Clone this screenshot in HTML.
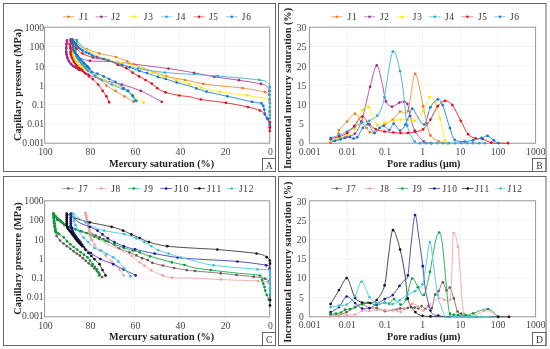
<!DOCTYPE html>
<html><head><meta charset="utf-8"><style>
html,body{margin:0;padding:0;background:#fff;width:550px;height:349px;overflow:hidden}
svg{display:block;font-family:"Liberation Serif", serif;will-change:transform}
</style></head><body>
<svg width="550" height="349" viewBox="0 0 550 349" font-family='"Liberation Serif", serif'><line x1="44.6" y1="46.53333333333333" x2="269.7" y2="46.53333333333333" stroke="#f2f2f2" stroke-width="1" />
<line x1="44.6" y1="65.86666666666666" x2="269.7" y2="65.86666666666666" stroke="#f2f2f2" stroke-width="1" />
<line x1="44.6" y1="85.19999999999999" x2="269.7" y2="85.19999999999999" stroke="#f2f2f2" stroke-width="1" />
<line x1="44.6" y1="104.53333333333333" x2="269.7" y2="104.53333333333333" stroke="#f2f2f2" stroke-width="1" />
<line x1="44.6" y1="123.86666666666665" x2="269.7" y2="123.86666666666665" stroke="#f2f2f2" stroke-width="1" />
<line x1="89.62" y1="27.2" x2="89.62" y2="143.2" stroke="#f2f2f2" stroke-width="1" />
<line x1="134.64" y1="27.2" x2="134.64" y2="143.2" stroke="#f2f2f2" stroke-width="1" />
<line x1="179.66" y1="27.2" x2="179.66" y2="143.2" stroke="#f2f2f2" stroke-width="1" />
<line x1="224.67999999999998" y1="27.2" x2="224.67999999999998" y2="143.2" stroke="#f2f2f2" stroke-width="1" />
<rect x="44.6" y="27.2" width="225.1" height="115.99999999999999" stroke="#959595" stroke-width="1" fill="none"/>
<rect x="3.5" y="3.5" width="272.0" height="168.0" stroke="#666" stroke-width="1" fill="none"/>
<rect x="262.5" y="158.5" width="13.0" height="13.0" stroke="#666" stroke-width="1" fill="none"/>
<text x="269.3" y="169.1" font-size="9.6" text-anchor="middle" font-weight="normal" fill="#3a3a3a" >A</text>
<text x="44.1" y="31.2" font-size="9.7" text-anchor="end" font-weight="normal" fill="#444" >1000</text>
<text x="44.1" y="50.35" font-size="9.7" text-anchor="end" font-weight="normal" fill="#444" >100</text>
<text x="44.1" y="69.5" font-size="9.7" text-anchor="end" font-weight="normal" fill="#444" >10</text>
<text x="44.1" y="88.64999999999999" font-size="9.7" text-anchor="end" font-weight="normal" fill="#444" >1</text>
<text x="44.1" y="107.8" font-size="9.7" text-anchor="end" font-weight="normal" fill="#444" >0.1</text>
<text x="44.1" y="126.95" font-size="9.7" text-anchor="end" font-weight="normal" fill="#444" >0.01</text>
<text x="44.1" y="146.09999999999997" font-size="9.7" text-anchor="end" font-weight="normal" fill="#444" >0.001</text>
<text x="45.4" y="154.7" font-size="9.7" text-anchor="middle" font-weight="normal" fill="#444" >100</text>
<text x="90.42" y="154.7" font-size="9.7" text-anchor="middle" font-weight="normal" fill="#444" >80</text>
<text x="135.44" y="154.7" font-size="9.7" text-anchor="middle" font-weight="normal" fill="#444" >60</text>
<text x="180.46" y="154.7" font-size="9.7" text-anchor="middle" font-weight="normal" fill="#444" >40</text>
<text x="225.48" y="154.7" font-size="9.7" text-anchor="middle" font-weight="normal" fill="#444" >20</text>
<text x="270.5" y="154.7" font-size="9.7" text-anchor="middle" font-weight="normal" fill="#444" >0</text>
<text x="161.6" y="166.6" font-size="10.2" text-anchor="middle" font-weight="bold" fill="#222" >Mercury saturation (%)</text>
<text x="0" y="0" font-size="10.3" text-anchor="middle" font-weight="bold" fill="#222" transform="translate(20.8,84.89999999999999) rotate(-90)">Capillary pressure (MPa)</text>
<line x1="62.8" y1="16.7" x2="74.3" y2="16.7" stroke="#F7B27A" stroke-width="1.1" />
<circle cx="68.55" cy="16.7" r="1.3" fill="#EE7A10"/>
<text x="79.2" y="19.7" font-size="9.4" text-anchor="start" font-weight="normal" fill="#333" letter-spacing="0.7">J1</text>
<line x1="95.6" y1="16.7" x2="107.1" y2="16.7" stroke="#D49CCD" stroke-width="1.1" />
<circle cx="101.35" cy="16.7" r="1.3" fill="#9C2A8E"/>
<text x="111.2" y="19.7" font-size="9.4" text-anchor="start" font-weight="normal" fill="#333" letter-spacing="0.7">J2</text>
<line x1="128.2" y1="16.7" x2="139.7" y2="16.7" stroke="#FFF27A" stroke-width="1.1" />
<circle cx="133.95" cy="16.7" r="1.3" fill="#FFE600"/>
<text x="143.8" y="19.7" font-size="9.4" text-anchor="start" font-weight="normal" fill="#333" letter-spacing="0.7">J3</text>
<line x1="160.8" y1="16.7" x2="172.3" y2="16.7" stroke="#98D6EE" stroke-width="1.1" />
<circle cx="166.55" cy="16.7" r="1.3" fill="#2BA5D0"/>
<text x="176.4" y="19.7" font-size="9.4" text-anchor="start" font-weight="normal" fill="#333" letter-spacing="0.7">J4</text>
<line x1="193.4" y1="16.7" x2="204.9" y2="16.7" stroke="#F59A9A" stroke-width="1.1" />
<circle cx="199.15" cy="16.7" r="1.3" fill="#E8101A"/>
<text x="209" y="19.7" font-size="9.4" text-anchor="start" font-weight="normal" fill="#333" letter-spacing="0.7">J5</text>
<line x1="226" y1="16.7" x2="237.5" y2="16.7" stroke="#98CCF2" stroke-width="1.1" />
<circle cx="231.75" cy="16.7" r="1.3" fill="#1E7FD8"/>
<text x="241.8" y="19.7" font-size="9.4" text-anchor="start" font-weight="normal" fill="#333" letter-spacing="0.7">J6</text>
<line x1="309.4" y1="46.53333333333333" x2="535.6" y2="46.53333333333333" stroke="#f2f2f2" stroke-width="1" />
<line x1="309.4" y1="65.86666666666666" x2="535.6" y2="65.86666666666666" stroke="#f2f2f2" stroke-width="1" />
<line x1="309.4" y1="85.19999999999999" x2="535.6" y2="85.19999999999999" stroke="#f2f2f2" stroke-width="1" />
<line x1="309.4" y1="104.53333333333333" x2="535.6" y2="104.53333333333333" stroke="#f2f2f2" stroke-width="1" />
<line x1="309.4" y1="123.86666666666665" x2="535.6" y2="123.86666666666665" stroke="#f2f2f2" stroke-width="1" />
<line x1="347.09999999999997" y1="27.2" x2="347.09999999999997" y2="143.2" stroke="#f2f2f2" stroke-width="1" />
<line x1="384.8" y1="27.2" x2="384.8" y2="143.2" stroke="#f2f2f2" stroke-width="1" />
<line x1="422.5" y1="27.2" x2="422.5" y2="143.2" stroke="#f2f2f2" stroke-width="1" />
<line x1="460.20000000000005" y1="27.2" x2="460.20000000000005" y2="143.2" stroke="#f2f2f2" stroke-width="1" />
<line x1="497.9" y1="27.2" x2="497.9" y2="143.2" stroke="#f2f2f2" stroke-width="1" />
<rect x="309.4" y="27.2" width="226.20000000000005" height="115.99999999999999" stroke="#959595" stroke-width="1" fill="none"/>
<rect x="278.5" y="3.5" width="267.5" height="168.0" stroke="#666" stroke-width="1" fill="none"/>
<rect x="532.5" y="158.5" width="13.5" height="13.0" stroke="#666" stroke-width="1" fill="none"/>
<text x="539.55" y="169.1" font-size="9.6" text-anchor="middle" font-weight="normal" fill="#3a3a3a" >B</text>
<text x="301.5" y="31.2" font-size="9.7" text-anchor="middle" font-weight="normal" fill="#444" >30</text>
<text x="301.5" y="50.35" font-size="9.7" text-anchor="middle" font-weight="normal" fill="#444" >25</text>
<text x="301.5" y="69.5" font-size="9.7" text-anchor="middle" font-weight="normal" fill="#444" >20</text>
<text x="301.5" y="88.64999999999999" font-size="9.7" text-anchor="middle" font-weight="normal" fill="#444" >15</text>
<text x="301.5" y="107.8" font-size="9.7" text-anchor="middle" font-weight="normal" fill="#444" >10</text>
<text x="301.5" y="126.95" font-size="9.7" text-anchor="middle" font-weight="normal" fill="#444" >5</text>
<text x="301.5" y="146.09999999999997" font-size="9.7" text-anchor="middle" font-weight="normal" fill="#444" >0</text>
<text x="309.59999999999997" y="154.7" font-size="9.7" text-anchor="middle" font-weight="normal" fill="#444" >0.001</text>
<text x="347.29999999999995" y="154.7" font-size="9.7" text-anchor="middle" font-weight="normal" fill="#444" >0.01</text>
<text x="385.0" y="154.7" font-size="9.7" text-anchor="middle" font-weight="normal" fill="#444" >0.1</text>
<text x="422.7" y="154.7" font-size="9.7" text-anchor="middle" font-weight="normal" fill="#444" >1</text>
<text x="460.40000000000003" y="154.7" font-size="9.7" text-anchor="middle" font-weight="normal" fill="#444" >10</text>
<text x="498.09999999999997" y="154.7" font-size="9.7" text-anchor="middle" font-weight="normal" fill="#444" >100</text>
<text x="535.8000000000001" y="154.7" font-size="9.7" text-anchor="middle" font-weight="normal" fill="#444" >1000</text>
<text x="423.8" y="166.6" font-size="10.1" text-anchor="middle" font-weight="bold" fill="#222" >Pore radius (μm)</text>
<text x="0" y="0" font-size="10.3" text-anchor="middle" font-weight="bold" fill="#222" transform="translate(290.6,88.5) rotate(-90)">Incremental mercury saturation (%)</text>
<line x1="331" y1="16.7" x2="342.5" y2="16.7" stroke="#F7B27A" stroke-width="1.1" />
<circle cx="336.75" cy="16.7" r="1.3" fill="#EE7A10"/>
<text x="347.6" y="19.7" font-size="9.4" text-anchor="start" font-weight="normal" fill="#333" letter-spacing="0.7">J1</text>
<line x1="363.8" y1="16.7" x2="375.3" y2="16.7" stroke="#D49CCD" stroke-width="1.1" />
<circle cx="369.55" cy="16.7" r="1.3" fill="#9C2A8E"/>
<text x="380" y="19.7" font-size="9.4" text-anchor="start" font-weight="normal" fill="#333" letter-spacing="0.7">J2</text>
<line x1="396.4" y1="16.7" x2="407.9" y2="16.7" stroke="#FFF27A" stroke-width="1.1" />
<circle cx="402.15" cy="16.7" r="1.3" fill="#FFE600"/>
<text x="412.8" y="19.7" font-size="9.4" text-anchor="start" font-weight="normal" fill="#333" letter-spacing="0.7">J3</text>
<line x1="429" y1="16.7" x2="440.5" y2="16.7" stroke="#98D6EE" stroke-width="1.1" />
<circle cx="434.75" cy="16.7" r="1.3" fill="#2BA5D0"/>
<text x="445" y="19.7" font-size="9.4" text-anchor="start" font-weight="normal" fill="#333" letter-spacing="0.7">J4</text>
<line x1="461.6" y1="16.7" x2="473.1" y2="16.7" stroke="#F59A9A" stroke-width="1.1" />
<circle cx="467.35" cy="16.7" r="1.3" fill="#E8101A"/>
<text x="478" y="19.7" font-size="9.4" text-anchor="start" font-weight="normal" fill="#333" letter-spacing="0.7">J5</text>
<line x1="494.2" y1="16.7" x2="505.7" y2="16.7" stroke="#98CCF2" stroke-width="1.1" />
<circle cx="499.95" cy="16.7" r="1.3" fill="#1E7FD8"/>
<text x="510" y="19.7" font-size="9.4" text-anchor="start" font-weight="normal" fill="#333" letter-spacing="0.7">J6</text>
<line x1="44.6" y1="220.13333333333335" x2="269.7" y2="220.13333333333335" stroke="#f2f2f2" stroke-width="1" />
<line x1="44.6" y1="239.46666666666667" x2="269.7" y2="239.46666666666667" stroke="#f2f2f2" stroke-width="1" />
<line x1="44.6" y1="258.8" x2="269.7" y2="258.8" stroke="#f2f2f2" stroke-width="1" />
<line x1="44.6" y1="278.1333333333333" x2="269.7" y2="278.1333333333333" stroke="#f2f2f2" stroke-width="1" />
<line x1="44.6" y1="297.4666666666667" x2="269.7" y2="297.4666666666667" stroke="#f2f2f2" stroke-width="1" />
<line x1="89.62" y1="200.8" x2="89.62" y2="316.8" stroke="#f2f2f2" stroke-width="1" />
<line x1="134.64" y1="200.8" x2="134.64" y2="316.8" stroke="#f2f2f2" stroke-width="1" />
<line x1="179.66" y1="200.8" x2="179.66" y2="316.8" stroke="#f2f2f2" stroke-width="1" />
<line x1="224.67999999999998" y1="200.8" x2="224.67999999999998" y2="316.8" stroke="#f2f2f2" stroke-width="1" />
<rect x="44.6" y="200.8" width="225.1" height="116.0" stroke="#959595" stroke-width="1" fill="none"/>
<rect x="3.5" y="176.5" width="272.0" height="169.0" stroke="#666" stroke-width="1" fill="none"/>
<rect x="262.5" y="332.5" width="13.0" height="13.0" stroke="#666" stroke-width="1" fill="none"/>
<text x="269.3" y="343.1" font-size="9.6" text-anchor="middle" font-weight="normal" fill="#3a3a3a" >C</text>
<text x="43.7" y="204.2" font-size="9.7" text-anchor="end" font-weight="normal" fill="#444" >1000</text>
<text x="43.7" y="223.35" font-size="9.7" text-anchor="end" font-weight="normal" fill="#444" >100</text>
<text x="43.7" y="242.5" font-size="9.7" text-anchor="end" font-weight="normal" fill="#444" >10</text>
<text x="43.7" y="261.65" font-size="9.7" text-anchor="end" font-weight="normal" fill="#444" >1</text>
<text x="43.7" y="280.8" font-size="9.7" text-anchor="end" font-weight="normal" fill="#444" >0.1</text>
<text x="43.7" y="299.95" font-size="9.7" text-anchor="end" font-weight="normal" fill="#444" >0.01</text>
<text x="43.7" y="319.09999999999997" font-size="9.7" text-anchor="end" font-weight="normal" fill="#444" >0.001</text>
<text x="45.4" y="328.90000000000003" font-size="9.7" text-anchor="middle" font-weight="normal" fill="#444" >100</text>
<text x="90.42" y="328.90000000000003" font-size="9.7" text-anchor="middle" font-weight="normal" fill="#444" >80</text>
<text x="135.44" y="328.90000000000003" font-size="9.7" text-anchor="middle" font-weight="normal" fill="#444" >60</text>
<text x="180.46" y="328.90000000000003" font-size="9.7" text-anchor="middle" font-weight="normal" fill="#444" >40</text>
<text x="225.48" y="328.90000000000003" font-size="9.7" text-anchor="middle" font-weight="normal" fill="#444" >20</text>
<text x="270.5" y="328.90000000000003" font-size="9.7" text-anchor="middle" font-weight="normal" fill="#444" >0</text>
<text x="161.6" y="340.2" font-size="10.2" text-anchor="middle" font-weight="bold" fill="#222" >Mercury saturation (%)</text>
<text x="0" y="0" font-size="10.3" text-anchor="middle" font-weight="bold" fill="#222" transform="translate(20.8,258.5) rotate(-90)">Capillary pressure (MPa)</text>
<line x1="62.6" y1="188.5" x2="74.1" y2="188.5" stroke="#B0A5A0" stroke-width="1.1" />
<circle cx="68.35" cy="188.5" r="1.3" fill="#6E5E58"/>
<text x="78.6" y="191.5" font-size="9.4" text-anchor="start" font-weight="normal" fill="#333" letter-spacing="0.7">J7</text>
<line x1="95.6" y1="188.5" x2="107.1" y2="188.5" stroke="#F8C8C8" stroke-width="1.1" />
<circle cx="101.35" cy="188.5" r="1.3" fill="#F19A9A"/>
<text x="111.2" y="191.5" font-size="9.4" text-anchor="start" font-weight="normal" fill="#333" letter-spacing="0.7">J8</text>
<line x1="128" y1="188.5" x2="139.5" y2="188.5" stroke="#70C890" stroke-width="1.1" />
<circle cx="133.75" cy="188.5" r="1.3" fill="#10A040"/>
<text x="143.8" y="191.5" font-size="9.4" text-anchor="start" font-weight="normal" fill="#333" letter-spacing="0.7">J9</text>
<line x1="160.4" y1="188.5" x2="171.9" y2="188.5" stroke="#7070C8" stroke-width="1.1" />
<circle cx="166.15" cy="188.5" r="1.3" fill="#1A1A9A"/>
<text x="174" y="191.5" font-size="9.4" text-anchor="start" font-weight="normal" fill="#333" letter-spacing="0.7">J10</text>
<line x1="193.6" y1="188.5" x2="205.1" y2="188.5" stroke="#666" stroke-width="1.1" />
<circle cx="199.35" cy="188.5" r="1.3" fill="#111"/>
<text x="207" y="191.5" font-size="9.4" text-anchor="start" font-weight="normal" fill="#333" letter-spacing="0.7">J11</text>
<line x1="226" y1="188.5" x2="237.5" y2="188.5" stroke="#A0E2F0" stroke-width="1.1" />
<circle cx="231.75" cy="188.5" r="1.3" fill="#3CC0DA"/>
<text x="239" y="191.5" font-size="9.4" text-anchor="start" font-weight="normal" fill="#333" letter-spacing="0.7">J12</text>
<line x1="309.4" y1="220.13333333333335" x2="535.6" y2="220.13333333333335" stroke="#f2f2f2" stroke-width="1" />
<line x1="309.4" y1="239.46666666666667" x2="535.6" y2="239.46666666666667" stroke="#f2f2f2" stroke-width="1" />
<line x1="309.4" y1="258.8" x2="535.6" y2="258.8" stroke="#f2f2f2" stroke-width="1" />
<line x1="309.4" y1="278.1333333333333" x2="535.6" y2="278.1333333333333" stroke="#f2f2f2" stroke-width="1" />
<line x1="309.4" y1="297.4666666666667" x2="535.6" y2="297.4666666666667" stroke="#f2f2f2" stroke-width="1" />
<line x1="347.09999999999997" y1="200.8" x2="347.09999999999997" y2="316.8" stroke="#f2f2f2" stroke-width="1" />
<line x1="384.8" y1="200.8" x2="384.8" y2="316.8" stroke="#f2f2f2" stroke-width="1" />
<line x1="422.5" y1="200.8" x2="422.5" y2="316.8" stroke="#f2f2f2" stroke-width="1" />
<line x1="460.20000000000005" y1="200.8" x2="460.20000000000005" y2="316.8" stroke="#f2f2f2" stroke-width="1" />
<line x1="497.9" y1="200.8" x2="497.9" y2="316.8" stroke="#f2f2f2" stroke-width="1" />
<rect x="309.4" y="200.8" width="226.20000000000005" height="116.0" stroke="#959595" stroke-width="1" fill="none"/>
<rect x="278.5" y="176.5" width="267.5" height="169.0" stroke="#666" stroke-width="1" fill="none"/>
<rect x="532.5" y="332.5" width="13.5" height="13.0" stroke="#666" stroke-width="1" fill="none"/>
<text x="539.55" y="343.1" font-size="9.6" text-anchor="middle" font-weight="normal" fill="#3a3a3a" >D</text>
<text x="301.5" y="204.8" font-size="9.7" text-anchor="middle" font-weight="normal" fill="#444" >30</text>
<text x="301.5" y="223.95000000000002" font-size="9.7" text-anchor="middle" font-weight="normal" fill="#444" >25</text>
<text x="301.5" y="243.10000000000002" font-size="9.7" text-anchor="middle" font-weight="normal" fill="#444" >20</text>
<text x="301.5" y="262.25" font-size="9.7" text-anchor="middle" font-weight="normal" fill="#444" >15</text>
<text x="301.5" y="281.40000000000003" font-size="9.7" text-anchor="middle" font-weight="normal" fill="#444" >10</text>
<text x="301.5" y="300.55" font-size="9.7" text-anchor="middle" font-weight="normal" fill="#444" >5</text>
<text x="301.5" y="319.7" font-size="9.7" text-anchor="middle" font-weight="normal" fill="#444" >0</text>
<text x="309.59999999999997" y="328.3" font-size="9.7" text-anchor="middle" font-weight="normal" fill="#444" >0.001</text>
<text x="347.29999999999995" y="328.3" font-size="9.7" text-anchor="middle" font-weight="normal" fill="#444" >0.01</text>
<text x="385.0" y="328.3" font-size="9.7" text-anchor="middle" font-weight="normal" fill="#444" >0.1</text>
<text x="422.7" y="328.3" font-size="9.7" text-anchor="middle" font-weight="normal" fill="#444" >1</text>
<text x="460.40000000000003" y="328.3" font-size="9.7" text-anchor="middle" font-weight="normal" fill="#444" >10</text>
<text x="498.09999999999997" y="328.3" font-size="9.7" text-anchor="middle" font-weight="normal" fill="#444" >100</text>
<text x="535.8000000000001" y="328.3" font-size="9.7" text-anchor="middle" font-weight="normal" fill="#444" >1000</text>
<text x="423.8" y="340.2" font-size="10.1" text-anchor="middle" font-weight="bold" fill="#222" >Pore radius (μm)</text>
<text x="0" y="0" font-size="10.3" text-anchor="middle" font-weight="bold" fill="#222" transform="translate(290.6,262.2) rotate(-90)">Incremental mercury saturation (%)</text>
<line x1="331" y1="188.5" x2="342.5" y2="188.5" stroke="#B0A5A0" stroke-width="1.1" />
<circle cx="336.75" cy="188.5" r="1.3" fill="#6E5E58"/>
<text x="346.6" y="191.5" font-size="9.4" text-anchor="start" font-weight="normal" fill="#333" letter-spacing="0.7">J7</text>
<line x1="364" y1="188.5" x2="375.5" y2="188.5" stroke="#F8C8C8" stroke-width="1.1" />
<circle cx="369.75" cy="188.5" r="1.3" fill="#F19A9A"/>
<text x="380" y="191.5" font-size="9.4" text-anchor="start" font-weight="normal" fill="#333" letter-spacing="0.7">J8</text>
<line x1="396.6" y1="188.5" x2="408.1" y2="188.5" stroke="#70C890" stroke-width="1.1" />
<circle cx="402.35" cy="188.5" r="1.3" fill="#10A040"/>
<text x="412.6" y="191.5" font-size="9.4" text-anchor="start" font-weight="normal" fill="#333" letter-spacing="0.7">J9</text>
<line x1="428.6" y1="188.5" x2="440.1" y2="188.5" stroke="#7070C8" stroke-width="1.1" />
<circle cx="434.35" cy="188.5" r="1.3" fill="#1A1A9A"/>
<text x="442.4" y="191.5" font-size="9.4" text-anchor="start" font-weight="normal" fill="#333" letter-spacing="0.7">J10</text>
<line x1="462" y1="188.5" x2="473.5" y2="188.5" stroke="#666" stroke-width="1.1" />
<circle cx="467.75" cy="188.5" r="1.3" fill="#111"/>
<text x="475" y="191.5" font-size="9.4" text-anchor="start" font-weight="normal" fill="#333" letter-spacing="0.7">J11</text>
<line x1="495" y1="188.5" x2="506.5" y2="188.5" stroke="#A0E2F0" stroke-width="1.1" />
<circle cx="500.75" cy="188.5" r="1.3" fill="#3CC0DA"/>
<text x="507.6" y="191.5" font-size="9.4" text-anchor="start" font-weight="normal" fill="#333" letter-spacing="0.7">J12</text>
<path d="M269.80,128.00 C269.80,125.33 269.83,116.67 269.80,112.00 C269.77,107.33 269.75,102.93 269.60,100.00 C269.45,97.07 269.68,95.73 268.90,94.40 C268.12,93.07 269.25,93.05 264.90,92.00 C260.55,90.95 249.95,89.10 242.80,88.10 C235.65,87.10 228.57,86.70 222.00,86.00 C215.43,85.30 209.57,84.90 203.40,83.90 C197.23,82.90 191.18,81.28 185.00,80.00 C178.82,78.72 172.13,77.78 166.30,76.20 C160.47,74.62 155.40,72.43 150.00,70.50 C144.60,68.57 137.70,66.12 133.90,64.60 C130.10,63.08 130.18,62.65 127.20,61.40 C124.22,60.15 119.53,58.20 116.00,57.10 C112.47,56.00 108.78,55.42 106.00,54.80 C103.22,54.18 102.53,54.33 99.30,53.40 C96.07,52.47 89.82,50.43 86.60,49.20 C83.38,47.97 81.68,47.20 80.00,46.00 C78.32,44.80 77.33,43.00 76.50,42.00 C75.67,41.00 75.28,39.33 75.00,40.00 C74.72,40.67 74.72,44.00 74.80,46.00 C74.88,48.00 75.05,50.00 75.50,52.00 C75.95,54.00 76.58,56.00 77.50,58.00 C78.42,60.00 79.58,62.08 81.00,64.00 C82.42,65.92 84.17,67.83 86.00,69.50 C87.83,71.17 89.67,72.40 92.00,74.00 C94.33,75.60 97.60,77.18 100.00,79.10 C102.40,81.02 103.82,83.53 106.40,85.50 C108.98,87.47 112.48,89.08 115.50,90.90 C118.52,92.72 121.48,94.58 124.50,96.40 C127.52,98.22 132.08,100.90 133.60,101.80" fill="none" stroke="#F39A4A" stroke-width="1.0"/>
<circle cx="269.8" cy="128" r="1.35" fill="#EE7B22"/>
<circle cx="269.8" cy="112" r="1.35" fill="#EE7B22"/>
<circle cx="269.6" cy="100" r="1.35" fill="#EE7B22"/>
<circle cx="268.9" cy="94.4" r="1.35" fill="#EE7B22"/>
<circle cx="264.9" cy="92" r="1.35" fill="#EE7B22"/>
<circle cx="242.8" cy="88.1" r="1.35" fill="#EE7B22"/>
<circle cx="203.4" cy="83.9" r="1.35" fill="#EE7B22"/>
<circle cx="185" cy="80" r="1.35" fill="#EE7B22"/>
<circle cx="166.3" cy="76.2" r="1.35" fill="#EE7B22"/>
<circle cx="133.9" cy="64.6" r="1.35" fill="#EE7B22"/>
<circle cx="127.2" cy="61.4" r="1.35" fill="#EE7B22"/>
<circle cx="116" cy="57.1" r="1.35" fill="#EE7B22"/>
<circle cx="99.3" cy="53.4" r="1.35" fill="#EE7B22"/>
<circle cx="86.6" cy="49.2" r="1.35" fill="#EE7B22"/>
<circle cx="75" cy="40" r="1.35" fill="#EE7B22"/>
<circle cx="74.8" cy="46" r="1.35" fill="#EE7B22"/>
<circle cx="77.5" cy="58" r="1.35" fill="#EE7B22"/>
<circle cx="86" cy="69.5" r="1.35" fill="#EE7B22"/>
<circle cx="100" cy="79.1" r="1.35" fill="#EE7B22"/>
<circle cx="106.4" cy="85.5" r="1.35" fill="#EE7B22"/>
<circle cx="115.5" cy="90.9" r="1.35" fill="#EE7B22"/>
<circle cx="124.5" cy="96.4" r="1.35" fill="#EE7B22"/>
<circle cx="133.6" cy="101.8" r="1.35" fill="#EE7B22"/>
<path d="M269.80,126.00 C269.80,123.67 269.80,116.33 269.80,112.00 C269.80,107.67 269.88,103.50 269.80,100.00 C269.72,96.50 269.72,93.25 269.30,91.00 C268.88,88.75 268.68,87.68 267.30,86.50 C265.92,85.32 265.73,84.95 261.00,83.90 C256.27,82.85 246.67,81.38 238.90,80.20 C231.13,79.02 221.88,78.03 214.40,76.80 C206.92,75.57 201.67,74.17 194.00,72.80 C186.33,71.43 179.07,70.12 168.40,68.60 C157.73,67.08 139.95,64.88 130.00,63.70 C120.05,62.52 115.37,61.97 108.70,61.50 C102.03,61.03 94.78,61.48 90.00,60.90 C85.22,60.32 82.42,59.07 80.00,58.00 C77.58,56.93 77.00,56.00 75.50,54.50 C74.00,53.00 72.17,50.75 71.00,49.00 C69.83,47.25 69.17,45.42 68.50,44.00 C67.83,42.58 67.33,40.50 67.00,40.50 C66.67,40.50 66.62,42.75 66.50,44.00 C66.38,45.25 66.33,46.67 66.30,48.00 C66.27,49.33 66.27,50.95 66.30,52.00 C66.33,53.05 66.33,53.38 66.50,54.30 C66.67,55.22 66.92,56.38 67.30,57.50 C67.68,58.62 68.18,59.92 68.80,61.00 C69.42,62.08 70.22,63.12 71.00,64.00 C71.78,64.88 72.62,65.63 73.50,66.30 C74.38,66.97 75.37,67.38 76.30,68.00 C77.23,68.62 77.12,68.92 79.10,70.00 C81.08,71.08 84.27,72.83 88.20,74.50 C92.13,76.17 97.10,78.33 102.70,80.00 C108.30,81.67 115.43,82.68 121.80,84.50 C128.17,86.32 134.23,88.02 140.90,90.90 C147.57,93.78 158.32,99.98 161.80,101.80" fill="none" stroke="#B855A0" stroke-width="1.0"/>
<path d="M66.90,40.00 C66.83,40.67 66.60,42.67 66.50,44.00 C66.40,45.33 66.33,46.67 66.30,48.00 C66.27,49.33 66.27,50.95 66.30,52.00 C66.33,53.05 66.33,53.38 66.50,54.30 C66.67,55.22 66.92,56.38 67.30,57.50 C67.68,58.62 68.18,59.92 68.80,61.00 C69.42,62.08 70.22,63.12 71.00,64.00 C71.78,64.88 72.62,65.63 73.50,66.30 C74.38,66.97 75.38,67.42 76.30,68.00 C77.22,68.58 78.55,69.50 79.00,69.80" fill="none" stroke="#9B2D88" stroke-width="1.9" stroke-linecap="round" stroke-linejoin="round"/>
<circle cx="269.8" cy="126" r="1.35" fill="#9B2D88"/>
<circle cx="269.8" cy="112" r="1.35" fill="#9B2D88"/>
<circle cx="269.8" cy="100" r="1.35" fill="#9B2D88"/>
<circle cx="269.3" cy="91" r="1.35" fill="#9B2D88"/>
<circle cx="261" cy="83.9" r="1.35" fill="#9B2D88"/>
<circle cx="238.9" cy="80.2" r="1.35" fill="#9B2D88"/>
<circle cx="214.4" cy="76.8" r="1.35" fill="#9B2D88"/>
<circle cx="194" cy="72.8" r="1.35" fill="#9B2D88"/>
<circle cx="168.4" cy="68.6" r="1.35" fill="#9B2D88"/>
<circle cx="90" cy="60.9" r="1.35" fill="#9B2D88"/>
<circle cx="67" cy="40.5" r="1.35" fill="#9B2D88"/>
<circle cx="66.5" cy="44" r="1.35" fill="#9B2D88"/>
<circle cx="66.3" cy="48" r="1.35" fill="#9B2D88"/>
<circle cx="66.3" cy="52" r="1.35" fill="#9B2D88"/>
<circle cx="66.5" cy="54.3" r="1.35" fill="#9B2D88"/>
<circle cx="67.3" cy="57.5" r="1.35" fill="#9B2D88"/>
<circle cx="68.8" cy="61" r="1.35" fill="#9B2D88"/>
<circle cx="71" cy="64" r="1.35" fill="#9B2D88"/>
<circle cx="73.5" cy="66.3" r="1.35" fill="#9B2D88"/>
<circle cx="76.3" cy="68" r="1.35" fill="#9B2D88"/>
<circle cx="79.1" cy="70" r="1.35" fill="#9B2D88"/>
<circle cx="88.2" cy="74.5" r="1.35" fill="#9B2D88"/>
<circle cx="121.8" cy="84.5" r="1.35" fill="#9B2D88"/>
<circle cx="140.9" cy="90.9" r="1.35" fill="#9B2D88"/>
<circle cx="161.8" cy="101.8" r="1.35" fill="#9B2D88"/>
<path d="M269.80,124.00 C269.80,121.67 269.83,113.67 269.80,110.00 C269.77,106.33 269.82,103.80 269.60,102.00 C269.38,100.20 272.25,100.30 268.50,99.20 C264.75,98.10 255.18,96.63 247.10,95.40 C239.02,94.17 227.62,93.10 220.00,91.80 C212.38,90.50 206.55,88.92 201.40,87.60 C196.25,86.28 193.33,85.17 189.10,83.90 C184.87,82.63 180.25,81.28 176.00,80.00 C171.75,78.72 167.52,77.42 163.60,76.20 C159.68,74.98 156.18,74.02 152.50,72.70 C148.82,71.38 145.07,69.65 141.50,68.30 C137.93,66.95 135.02,65.63 131.10,64.60 C127.18,63.57 122.52,63.20 118.00,62.10 C113.48,61.00 108.33,59.52 104.00,58.00 C99.67,56.48 95.50,54.83 92.00,53.00 C88.50,51.17 85.50,48.83 83.00,47.00 C80.50,45.17 78.50,43.17 77.00,42.00 C75.50,40.83 74.58,39.67 74.00,40.00 C73.42,40.33 73.63,42.67 73.50,44.00 C73.37,45.33 73.25,46.67 73.20,48.00 C73.15,49.33 73.20,50.77 73.20,52.00 C73.20,53.23 72.98,54.23 73.20,55.40 C73.42,56.57 73.87,57.82 74.50,59.00 C75.13,60.18 76.08,61.42 77.00,62.50 C77.92,63.58 79.00,64.58 80.00,65.50 C81.00,66.42 81.93,67.25 83.00,68.00 C84.07,68.75 84.32,68.75 86.40,70.00 C88.48,71.25 92.48,73.83 95.50,75.50 C98.52,77.17 101.17,78.33 104.50,80.00 C107.83,81.67 112.17,83.98 115.50,85.50 C118.83,87.02 121.78,87.60 124.50,89.10 C127.22,90.60 128.62,92.23 131.80,94.50 C134.98,96.77 141.63,101.33 143.60,102.70" fill="none" stroke="#FFEE33" stroke-width="1.0"/>
<path d="M74.00,40.00 C73.92,40.67 73.63,42.67 73.50,44.00 C73.37,45.33 73.25,46.67 73.20,48.00 C73.15,49.33 73.20,50.77 73.20,52.00 C73.20,53.23 72.98,54.23 73.20,55.40 C73.42,56.57 73.87,57.82 74.50,59.00 C75.13,60.18 76.08,61.42 77.00,62.50 C77.92,63.58 79.00,64.58 80.00,65.50 C81.00,66.42 82.00,67.30 83.00,68.00 C84.00,68.70 85.50,69.42 86.00,69.70" fill="none" stroke="#FFE000" stroke-width="1.9" stroke-linecap="round" stroke-linejoin="round"/>
<circle cx="269.8" cy="124" r="1.35" fill="#FFE000"/>
<circle cx="269.8" cy="110" r="1.35" fill="#FFE000"/>
<circle cx="269.6" cy="102" r="1.35" fill="#FFE000"/>
<circle cx="247.1" cy="95.4" r="1.35" fill="#FFE000"/>
<circle cx="220" cy="91.8" r="1.35" fill="#FFE000"/>
<circle cx="201.4" cy="87.6" r="1.35" fill="#FFE000"/>
<circle cx="189.1" cy="83.9" r="1.35" fill="#FFE000"/>
<circle cx="176" cy="80" r="1.35" fill="#FFE000"/>
<circle cx="163.6" cy="76.2" r="1.35" fill="#FFE000"/>
<circle cx="152.5" cy="72.7" r="1.35" fill="#FFE000"/>
<circle cx="141.5" cy="68.3" r="1.35" fill="#FFE000"/>
<circle cx="131.1" cy="64.6" r="1.35" fill="#FFE000"/>
<circle cx="118" cy="62.1" r="1.35" fill="#FFE000"/>
<circle cx="74" cy="40" r="1.35" fill="#FFE000"/>
<circle cx="73.5" cy="44" r="1.35" fill="#FFE000"/>
<circle cx="73.2" cy="48" r="1.35" fill="#FFE000"/>
<circle cx="73.2" cy="52" r="1.35" fill="#FFE000"/>
<circle cx="73.2" cy="55.4" r="1.35" fill="#FFE000"/>
<circle cx="74.5" cy="59" r="1.35" fill="#FFE000"/>
<circle cx="77" cy="62.5" r="1.35" fill="#FFE000"/>
<circle cx="80" cy="65.5" r="1.35" fill="#FFE000"/>
<circle cx="83" cy="68" r="1.35" fill="#FFE000"/>
<circle cx="86.4" cy="70" r="1.35" fill="#FFE000"/>
<circle cx="95.5" cy="75.5" r="1.35" fill="#FFE000"/>
<circle cx="104.5" cy="80" r="1.35" fill="#FFE000"/>
<circle cx="115.5" cy="85.5" r="1.35" fill="#FFE000"/>
<circle cx="124.5" cy="89.1" r="1.35" fill="#FFE000"/>
<circle cx="131.8" cy="94.5" r="1.35" fill="#FFE000"/>
<circle cx="143.6" cy="102.7" r="1.35" fill="#FFE000"/>
<path d="M269.80,118.00 C269.80,117.50 269.80,116.17 269.80,115.00 C269.80,113.83 269.80,112.33 269.80,111.00 C269.80,109.67 269.80,108.33 269.80,107.00 C269.80,105.67 269.80,104.33 269.80,103.00 C269.80,101.67 269.80,100.33 269.80,99.00 C269.80,97.67 269.80,96.33 269.80,95.00 C269.80,93.67 269.80,92.33 269.80,91.00 C269.80,89.67 270.22,88.40 269.80,87.00 C269.38,85.60 269.03,83.77 267.30,82.60 C265.57,81.43 267.68,81.10 259.40,80.00 C251.12,78.90 228.50,76.92 217.60,76.00 C206.70,75.08 202.77,75.08 194.00,74.50 C185.23,73.92 174.33,73.48 165.00,72.50 C155.67,71.52 145.50,70.02 138.00,68.60 C130.50,67.18 126.33,65.77 120.00,64.00 C113.67,62.23 105.33,60.00 100.00,58.00 C94.67,56.00 91.00,54.00 88.00,52.00 C85.00,50.00 83.58,47.67 82.00,46.00 C80.42,44.33 79.33,43.00 78.50,42.00 C77.67,41.00 77.37,39.67 77.00,40.00 C76.63,40.33 76.50,42.67 76.30,44.00 C76.10,45.33 75.93,46.83 75.80,48.00 C75.67,49.17 75.55,50.17 75.50,51.00 C75.45,51.83 75.33,52.08 75.50,53.00 C75.67,53.92 75.92,55.25 76.50,56.50 C77.08,57.75 78.08,59.25 79.00,60.50 C79.92,61.75 81.00,62.92 82.00,64.00 C83.00,65.08 83.97,65.85 85.00,67.00 C86.03,68.15 86.53,69.48 88.20,70.90 C89.87,72.32 92.73,73.98 95.00,75.50 C97.27,77.02 99.00,78.50 101.80,80.00 C104.60,81.50 108.32,82.98 111.80,84.50 C115.28,86.02 120.12,88.03 122.70,89.10 C125.28,90.17 125.63,89.68 127.30,90.90 C128.97,92.12 131.50,94.73 132.70,96.40 C133.90,98.07 134.20,100.15 134.50,100.90" fill="none" stroke="#4DB8DF" stroke-width="1.0"/>
<path d="M77.00,40.00 C76.88,40.67 76.50,42.67 76.30,44.00 C76.10,45.33 75.93,46.83 75.80,48.00 C75.67,49.17 75.55,50.17 75.50,51.00 C75.45,51.83 75.33,52.08 75.50,53.00 C75.67,53.92 75.92,55.25 76.50,56.50 C77.08,57.75 78.08,59.25 79.00,60.50 C79.92,61.75 81.00,62.92 82.00,64.00 C83.00,65.08 83.97,65.85 85.00,67.00 C86.03,68.15 87.67,70.25 88.20,70.90" fill="none" stroke="#2EA6D8" stroke-width="1.9" stroke-linecap="round" stroke-linejoin="round"/>
<circle cx="269.8" cy="118" r="1.35" fill="#2EA6D8"/>
<circle cx="269.8" cy="115" r="1.35" fill="#2EA6D8"/>
<circle cx="269.8" cy="111" r="1.35" fill="#2EA6D8"/>
<circle cx="269.8" cy="107" r="1.35" fill="#2EA6D8"/>
<circle cx="269.8" cy="103" r="1.35" fill="#2EA6D8"/>
<circle cx="269.8" cy="99" r="1.35" fill="#2EA6D8"/>
<circle cx="269.8" cy="95" r="1.35" fill="#2EA6D8"/>
<circle cx="269.8" cy="91" r="1.35" fill="#2EA6D8"/>
<circle cx="269.8" cy="87" r="1.35" fill="#2EA6D8"/>
<circle cx="259.4" cy="80" r="1.35" fill="#2EA6D8"/>
<circle cx="217.6" cy="76" r="1.35" fill="#2EA6D8"/>
<circle cx="165" cy="72.5" r="1.35" fill="#2EA6D8"/>
<circle cx="138" cy="68.6" r="1.35" fill="#2EA6D8"/>
<circle cx="77" cy="40" r="1.35" fill="#2EA6D8"/>
<circle cx="76.3" cy="44" r="1.35" fill="#2EA6D8"/>
<circle cx="75.8" cy="48" r="1.35" fill="#2EA6D8"/>
<circle cx="75.5" cy="51" r="1.35" fill="#2EA6D8"/>
<circle cx="75.5" cy="53" r="1.35" fill="#2EA6D8"/>
<circle cx="76.5" cy="56.5" r="1.35" fill="#2EA6D8"/>
<circle cx="79" cy="60.5" r="1.35" fill="#2EA6D8"/>
<circle cx="82" cy="64" r="1.35" fill="#2EA6D8"/>
<circle cx="85" cy="67" r="1.35" fill="#2EA6D8"/>
<circle cx="88.2" cy="70.9" r="1.35" fill="#2EA6D8"/>
<circle cx="95" cy="75.5" r="1.35" fill="#2EA6D8"/>
<circle cx="101.8" cy="80" r="1.35" fill="#2EA6D8"/>
<circle cx="111.8" cy="84.5" r="1.35" fill="#2EA6D8"/>
<circle cx="122.7" cy="89.1" r="1.35" fill="#2EA6D8"/>
<circle cx="127.3" cy="90.9" r="1.35" fill="#2EA6D8"/>
<circle cx="132.7" cy="96.4" r="1.35" fill="#2EA6D8"/>
<circle cx="134.5" cy="100.9" r="1.35" fill="#2EA6D8"/>
<path d="M269.80,131.00 C269.80,130.42 269.80,128.95 269.80,127.50 C269.80,126.05 270.15,123.68 269.80,122.30 C269.45,120.92 268.52,120.52 267.70,119.20 C266.88,117.88 266.20,115.85 264.90,114.40 C263.60,112.95 262.72,111.73 259.90,110.50 C257.08,109.27 253.65,108.28 248.00,107.00 C242.35,105.72 233.83,104.05 226.00,102.80 C218.17,101.55 207.00,100.50 201.00,99.50 C195.00,98.50 193.60,97.47 190.00,96.80 C186.40,96.13 183.48,96.23 179.40,95.50 C175.32,94.77 169.18,93.62 165.50,92.40 C161.82,91.18 159.58,89.67 157.30,88.20 C155.02,86.73 153.77,84.97 151.80,83.60 C149.83,82.23 147.62,81.20 145.50,80.00 C143.38,78.80 141.23,77.62 139.10,76.40 C136.97,75.18 134.82,74.07 132.70,72.70 C130.58,71.33 128.85,69.50 126.40,68.20 C123.95,66.90 120.97,66.18 118.00,64.90 C115.03,63.62 112.77,61.73 108.60,60.50 C104.43,59.27 97.35,58.67 93.00,57.50 C88.65,56.33 85.25,55.00 82.50,53.50 C79.75,52.00 78.17,50.17 76.50,48.50 C74.83,46.83 73.48,44.97 72.50,43.50 C71.52,42.03 70.93,39.62 70.60,39.70 C70.27,39.78 70.52,42.62 70.50,44.00 C70.48,45.38 70.48,46.67 70.50,48.00 C70.52,49.33 70.55,50.95 70.60,52.00 C70.65,53.05 70.57,53.30 70.80,54.30 C71.03,55.30 71.47,56.72 72.00,58.00 C72.53,59.28 73.25,60.75 74.00,62.00 C74.75,63.25 75.67,64.50 76.50,65.50 C77.33,66.50 78.17,67.30 79.00,68.00 C79.83,68.70 80.42,68.77 81.50,69.70 C82.58,70.63 84.25,72.50 85.50,73.60 C86.75,74.70 87.80,75.38 89.00,76.30 C90.20,77.22 91.17,77.73 92.70,79.10 C94.23,80.47 96.53,82.53 98.20,84.50 C99.87,86.47 101.33,88.92 102.70,90.90 C104.07,92.88 105.33,94.52 106.40,96.40 C107.47,98.28 108.65,101.23 109.10,102.20" fill="none" stroke="#EE3333" stroke-width="1.0"/>
<path d="M70.60,39.70 C70.58,40.42 70.52,42.62 70.50,44.00 C70.48,45.38 70.48,46.67 70.50,48.00 C70.52,49.33 70.55,50.95 70.60,52.00 C70.65,53.05 70.57,53.30 70.80,54.30 C71.03,55.30 71.47,56.72 72.00,58.00 C72.53,59.28 73.25,60.75 74.00,62.00 C74.75,63.25 75.67,64.50 76.50,65.50 C77.33,66.50 78.17,67.30 79.00,68.00 C79.83,68.70 80.50,68.87 81.50,69.70 C82.50,70.53 84.42,72.45 85.00,73.00" fill="none" stroke="#E01020" stroke-width="1.9" stroke-linecap="round" stroke-linejoin="round"/>
<circle cx="269.8" cy="131" r="1.35" fill="#E01020"/>
<circle cx="269.8" cy="127.5" r="1.35" fill="#E01020"/>
<circle cx="269.8" cy="122.3" r="1.35" fill="#E01020"/>
<circle cx="267.7" cy="119.2" r="1.35" fill="#E01020"/>
<circle cx="264.9" cy="114.4" r="1.35" fill="#E01020"/>
<circle cx="259.9" cy="110.5" r="1.35" fill="#E01020"/>
<circle cx="248" cy="107" r="1.35" fill="#E01020"/>
<circle cx="226" cy="102.8" r="1.35" fill="#E01020"/>
<circle cx="201" cy="99.5" r="1.35" fill="#E01020"/>
<circle cx="179.4" cy="95.5" r="1.35" fill="#E01020"/>
<circle cx="165.5" cy="92.4" r="1.35" fill="#E01020"/>
<circle cx="157.3" cy="88.2" r="1.35" fill="#E01020"/>
<circle cx="151.8" cy="83.6" r="1.35" fill="#E01020"/>
<circle cx="145.5" cy="80" r="1.35" fill="#E01020"/>
<circle cx="139.1" cy="76.4" r="1.35" fill="#E01020"/>
<circle cx="132.7" cy="72.7" r="1.35" fill="#E01020"/>
<circle cx="126.4" cy="68.2" r="1.35" fill="#E01020"/>
<circle cx="118" cy="64.9" r="1.35" fill="#E01020"/>
<circle cx="108.6" cy="60.5" r="1.35" fill="#E01020"/>
<circle cx="93" cy="57.5" r="1.35" fill="#E01020"/>
<circle cx="82.5" cy="53.5" r="1.35" fill="#E01020"/>
<circle cx="76.5" cy="48.5" r="1.35" fill="#E01020"/>
<circle cx="70.6" cy="39.7" r="1.35" fill="#E01020"/>
<circle cx="70.5" cy="44" r="1.35" fill="#E01020"/>
<circle cx="70.5" cy="48" r="1.35" fill="#E01020"/>
<circle cx="70.6" cy="52" r="1.35" fill="#E01020"/>
<circle cx="70.8" cy="54.3" r="1.35" fill="#E01020"/>
<circle cx="72" cy="58" r="1.35" fill="#E01020"/>
<circle cx="74" cy="62" r="1.35" fill="#E01020"/>
<circle cx="76.5" cy="65.5" r="1.35" fill="#E01020"/>
<circle cx="79" cy="68" r="1.35" fill="#E01020"/>
<circle cx="81.5" cy="69.7" r="1.35" fill="#E01020"/>
<circle cx="85.5" cy="73.6" r="1.35" fill="#E01020"/>
<circle cx="89" cy="76.3" r="1.35" fill="#E01020"/>
<circle cx="92.7" cy="79.1" r="1.35" fill="#E01020"/>
<circle cx="98.2" cy="84.5" r="1.35" fill="#E01020"/>
<circle cx="102.7" cy="90.9" r="1.35" fill="#E01020"/>
<circle cx="106.4" cy="96.4" r="1.35" fill="#E01020"/>
<circle cx="109.1" cy="102.2" r="1.35" fill="#E01020"/>
<path d="M269.80,124.00 C269.58,123.58 268.97,122.50 268.50,121.50 C268.03,120.50 267.60,119.30 267.00,118.00 C266.40,116.70 265.35,115.08 264.90,113.70 C264.45,112.32 264.57,111.02 264.30,109.70 C264.03,108.38 263.78,106.85 263.30,105.80 C262.82,104.75 263.28,104.07 261.40,103.40 C259.52,102.73 257.67,102.98 252.00,101.80 C246.33,100.62 234.97,98.00 227.40,96.30 C219.83,94.60 211.78,92.92 206.60,91.60 C201.42,90.28 199.07,89.30 196.30,88.40 C193.53,87.50 193.27,87.18 190.00,86.20 C186.73,85.22 180.75,83.70 176.70,82.50 C172.65,81.30 168.82,79.93 165.70,79.00 C162.58,78.07 161.12,77.88 158.00,76.90 C154.88,75.92 150.10,74.08 147.00,73.10 C143.90,72.12 142.28,71.97 139.40,71.00 C136.52,70.03 132.60,68.32 129.70,67.30 C126.80,66.28 126.28,66.28 122.00,64.90 C117.72,63.52 108.17,60.32 104.00,59.00 C99.83,57.68 99.00,57.58 97.00,57.00 C95.00,56.42 93.33,56.08 92.00,55.50 C90.67,54.92 90.00,54.00 89.00,53.50 C88.00,53.00 87.08,53.00 86.00,52.50 C84.92,52.00 83.67,51.25 82.50,50.50 C81.33,49.75 80.17,49.08 79.00,48.00 C77.83,46.92 76.67,45.43 75.50,44.00 C74.33,42.57 72.45,39.57 72.00,39.40 C71.55,39.23 72.63,41.73 72.80,43.00 C72.97,44.27 72.88,45.75 73.00,47.00 C73.12,48.25 73.17,49.50 73.50,50.50 C73.83,51.50 74.33,52.17 75.00,53.00 C75.67,53.83 76.58,54.42 77.50,55.50 C78.42,56.58 79.42,58.25 80.50,59.50 C81.58,60.75 82.83,61.83 84.00,63.00 C85.17,64.17 86.20,65.03 87.50,66.50 C88.80,67.97 90.17,70.62 91.80,71.80 C93.43,72.98 95.33,72.83 97.30,73.60 C99.27,74.37 101.63,75.48 103.60,76.40 C105.57,77.32 107.12,78.20 109.10,79.10 C111.08,80.00 113.77,80.82 115.50,81.80 C117.23,82.78 118.15,83.93 119.50,85.00 C120.85,86.07 122.15,87.22 123.60,88.20 C125.05,89.18 126.68,89.68 128.20,90.90 C129.72,92.12 131.33,93.83 132.70,95.50 C134.07,97.17 135.78,100.00 136.40,100.90" fill="none" stroke="#2A90E0" stroke-width="1.0"/>
<path d="M72.70,39.40 C72.72,40.00 72.75,41.73 72.80,43.00 C72.85,44.27 72.88,45.75 73.00,47.00 C73.12,48.25 73.17,49.50 73.50,50.50 C73.83,51.50 74.33,52.17 75.00,53.00 C75.67,53.83 76.58,54.42 77.50,55.50 C78.42,56.58 79.42,58.25 80.50,59.50 C81.58,60.75 82.83,61.83 84.00,63.00 C85.17,64.17 86.50,65.50 87.50,66.50 C88.50,67.50 89.58,68.58 90.00,69.00" fill="none" stroke="#1575D5" stroke-width="1.9" stroke-linecap="round" stroke-linejoin="round"/>
<path d="M72.70,39.40 C73.05,40.00 74.08,41.93 74.80,43.00 C75.52,44.07 76.22,44.93 77.00,45.80 C77.78,46.67 78.58,47.42 79.50,48.20 C80.42,48.98 82.00,50.12 82.50,50.50" fill="none" stroke="#1575D5" stroke-width="1.9" stroke-linecap="round" stroke-linejoin="round"/>
<circle cx="269.8" cy="124" r="1.35" fill="#1575D5"/>
<circle cx="267" cy="118" r="1.35" fill="#1575D5"/>
<circle cx="264.9" cy="113.7" r="1.35" fill="#1575D5"/>
<circle cx="264.3" cy="109.7" r="1.35" fill="#1575D5"/>
<circle cx="263.3" cy="105.8" r="1.35" fill="#1575D5"/>
<circle cx="261.4" cy="103.4" r="1.35" fill="#1575D5"/>
<circle cx="252" cy="101.8" r="1.35" fill="#1575D5"/>
<circle cx="227.4" cy="96.3" r="1.35" fill="#1575D5"/>
<circle cx="206.6" cy="91.6" r="1.35" fill="#1575D5"/>
<circle cx="196.3" cy="88.4" r="1.35" fill="#1575D5"/>
<circle cx="176.7" cy="82.5" r="1.35" fill="#1575D5"/>
<circle cx="165.7" cy="79" r="1.35" fill="#1575D5"/>
<circle cx="158" cy="76.9" r="1.35" fill="#1575D5"/>
<circle cx="147" cy="73.1" r="1.35" fill="#1575D5"/>
<circle cx="139.4" cy="71" r="1.35" fill="#1575D5"/>
<circle cx="129.7" cy="67.3" r="1.35" fill="#1575D5"/>
<circle cx="122" cy="64.9" r="1.35" fill="#1575D5"/>
<circle cx="104" cy="59" r="1.35" fill="#1575D5"/>
<circle cx="97" cy="57" r="1.35" fill="#1575D5"/>
<circle cx="92" cy="55.5" r="1.35" fill="#1575D5"/>
<circle cx="89" cy="53.5" r="1.35" fill="#1575D5"/>
<circle cx="86" cy="52.5" r="1.35" fill="#1575D5"/>
<circle cx="82.5" cy="50.5" r="1.35" fill="#1575D5"/>
<circle cx="79" cy="48" r="1.35" fill="#1575D5"/>
<circle cx="75.5" cy="44" r="1.35" fill="#1575D5"/>
<circle cx="72" cy="39.4" r="1.35" fill="#1575D5"/>
<circle cx="72.8" cy="43" r="1.35" fill="#1575D5"/>
<circle cx="73" cy="47" r="1.35" fill="#1575D5"/>
<circle cx="73.5" cy="50.5" r="1.35" fill="#1575D5"/>
<circle cx="75" cy="53" r="1.35" fill="#1575D5"/>
<circle cx="77.5" cy="55.5" r="1.35" fill="#1575D5"/>
<circle cx="80.5" cy="59.5" r="1.35" fill="#1575D5"/>
<circle cx="84" cy="63" r="1.35" fill="#1575D5"/>
<circle cx="87.5" cy="66.5" r="1.35" fill="#1575D5"/>
<circle cx="91.8" cy="71.8" r="1.35" fill="#1575D5"/>
<circle cx="97.3" cy="73.6" r="1.35" fill="#1575D5"/>
<circle cx="103.6" cy="76.4" r="1.35" fill="#1575D5"/>
<circle cx="109.1" cy="79.1" r="1.35" fill="#1575D5"/>
<circle cx="115.5" cy="81.8" r="1.35" fill="#1575D5"/>
<circle cx="123.6" cy="88.2" r="1.35" fill="#1575D5"/>
<circle cx="128.2" cy="90.9" r="1.35" fill="#1575D5"/>
<circle cx="132.7" cy="95.5" r="1.35" fill="#1575D5"/>
<circle cx="136.4" cy="100.9" r="1.35" fill="#1575D5"/>
<path d="M330.70,142.90 C331.33,142.42 333.18,141.55 334.50,140.00 C335.82,138.45 337.87,135.27 338.60,133.60 C339.33,131.93 337.47,132.02 338.90,130.00 C340.33,127.98 344.52,124.23 347.20,121.50 C349.88,118.77 352.62,113.48 355.00,113.60 C357.38,113.72 359.58,119.82 361.50,122.20 C363.42,124.58 365.08,126.23 366.50,127.90 C367.92,129.57 368.68,131.37 370.00,132.20 C371.32,133.03 372.82,133.52 374.40,132.90 C375.98,132.28 377.78,129.90 379.50,128.50 C381.22,127.10 382.48,125.98 384.70,124.50 C386.92,123.02 390.25,121.75 392.80,119.60 C395.35,117.45 397.48,113.02 400.00,111.60 C402.52,110.18 405.38,117.38 407.90,111.10 C410.42,104.82 412.57,74.72 415.10,73.90 C417.63,73.08 421.15,97.97 423.10,106.20 C425.05,114.43 425.58,118.43 426.80,123.30 C428.02,128.17 428.38,132.37 430.40,135.40 C432.42,138.43 436.13,140.20 438.90,141.50 C441.67,142.80 445.65,142.92 447.00,143.20" fill="none" stroke="#F39A4A" stroke-width="1.0"/>
<circle cx="330.7" cy="142.9" r="1.35" fill="#EE7B22"/>
<circle cx="338.6" cy="133.6" r="1.35" fill="#EE7B22"/>
<circle cx="338.9" cy="130" r="1.35" fill="#EE7B22"/>
<circle cx="347.2" cy="121.5" r="1.35" fill="#EE7B22"/>
<circle cx="355" cy="113.6" r="1.35" fill="#EE7B22"/>
<circle cx="361.5" cy="122.2" r="1.35" fill="#EE7B22"/>
<circle cx="366.5" cy="127.9" r="1.35" fill="#EE7B22"/>
<circle cx="370" cy="132.2" r="1.35" fill="#EE7B22"/>
<circle cx="374.4" cy="132.9" r="1.35" fill="#EE7B22"/>
<circle cx="384.7" cy="124.5" r="1.35" fill="#EE7B22"/>
<circle cx="392.8" cy="119.6" r="1.35" fill="#EE7B22"/>
<circle cx="400" cy="111.6" r="1.35" fill="#EE7B22"/>
<circle cx="407.9" cy="111.1" r="1.35" fill="#EE7B22"/>
<circle cx="415.1" cy="73.9" r="1.35" fill="#EE7B22"/>
<circle cx="423.1" cy="106.2" r="1.35" fill="#EE7B22"/>
<circle cx="426.8" cy="123.3" r="1.35" fill="#EE7B22"/>
<circle cx="430.4" cy="135.4" r="1.35" fill="#EE7B22"/>
<circle cx="438.9" cy="141.5" r="1.35" fill="#EE7B22"/>
<circle cx="447" cy="143.2" r="1.35" fill="#EE7B22"/>
<path d="M330.70,142.20 C332.13,141.60 336.55,139.55 339.30,138.60 C342.05,137.65 344.58,137.33 347.20,136.50 C349.82,135.67 352.62,136.10 355.00,133.60 C357.38,131.10 359.83,125.78 361.50,121.50 C363.17,117.22 363.57,113.68 365.00,107.90 C366.43,102.12 368.15,93.88 370.10,86.80 C372.05,79.72 374.67,65.82 376.70,65.40 C378.73,64.98 380.75,78.30 382.30,84.30 C383.85,90.30 384.38,97.67 386.00,101.40 C387.62,105.13 389.78,106.50 392.00,106.70 C394.22,106.90 397.27,103.42 399.30,102.60 C401.33,101.78 402.85,101.60 404.20,101.80 C405.55,102.00 406.38,101.43 407.40,103.80 C408.42,106.17 409.08,111.53 410.30,116.00 C411.52,120.47 412.47,126.35 414.70,130.60 C416.93,134.85 420.98,139.40 423.70,141.50 C426.42,143.60 429.78,142.92 431.00,143.20" fill="none" stroke="#B855A0" stroke-width="1.0"/>
<circle cx="330.7" cy="142.2" r="1.35" fill="#9B2D88"/>
<circle cx="339.3" cy="138.6" r="1.35" fill="#9B2D88"/>
<circle cx="347.2" cy="136.5" r="1.35" fill="#9B2D88"/>
<circle cx="355" cy="133.6" r="1.35" fill="#9B2D88"/>
<circle cx="361.5" cy="121.5" r="1.35" fill="#9B2D88"/>
<circle cx="370.1" cy="86.8" r="1.35" fill="#9B2D88"/>
<circle cx="376.7" cy="65.4" r="1.35" fill="#9B2D88"/>
<circle cx="386" cy="101.4" r="1.35" fill="#9B2D88"/>
<circle cx="392" cy="106.7" r="1.35" fill="#9B2D88"/>
<circle cx="399.3" cy="102.6" r="1.35" fill="#9B2D88"/>
<circle cx="404.2" cy="101.8" r="1.35" fill="#9B2D88"/>
<circle cx="407.4" cy="103.8" r="1.35" fill="#9B2D88"/>
<circle cx="410.3" cy="116" r="1.35" fill="#9B2D88"/>
<circle cx="414.7" cy="130.6" r="1.35" fill="#9B2D88"/>
<circle cx="423.7" cy="141.5" r="1.35" fill="#9B2D88"/>
<circle cx="431" cy="143.2" r="1.35" fill="#9B2D88"/>
<path d="M330.70,141.50 C332.13,140.90 336.55,138.97 339.30,137.90 C342.05,136.83 344.70,136.53 347.20,135.10 C349.70,133.67 351.80,133.48 354.30,129.30 C356.80,125.12 359.82,113.68 362.20,110.00 C364.58,106.32 366.93,106.60 368.60,107.20 C370.27,107.80 370.77,110.63 372.20,113.60 C373.63,116.57 375.17,123.45 377.20,125.00 C379.23,126.55 381.72,123.60 384.40,122.90 C387.08,122.20 390.60,121.35 393.30,120.80 C396.00,120.25 398.17,119.80 400.60,119.60 C403.03,119.40 405.57,119.40 407.90,119.60 C410.23,119.80 412.07,122.22 414.60,120.80 C417.13,119.38 420.58,115.07 423.10,111.10 C425.62,107.13 427.67,98.42 429.70,97.00 C431.73,95.58 433.57,99.03 435.30,102.60 C437.03,106.17 438.48,112.12 440.10,118.40 C441.72,124.68 443.35,136.17 445.00,140.30 C446.65,144.43 449.17,142.72 450.00,143.20" fill="none" stroke="#FFEE33" stroke-width="1.0"/>
<circle cx="330.7" cy="141.5" r="1.35" fill="#FFE000"/>
<circle cx="339.3" cy="137.9" r="1.35" fill="#FFE000"/>
<circle cx="347.2" cy="135.1" r="1.35" fill="#FFE000"/>
<circle cx="354.3" cy="129.3" r="1.35" fill="#FFE000"/>
<circle cx="362.2" cy="110" r="1.35" fill="#FFE000"/>
<circle cx="368.6" cy="107.2" r="1.35" fill="#FFE000"/>
<circle cx="377.2" cy="125" r="1.35" fill="#FFE000"/>
<circle cx="384.4" cy="122.9" r="1.35" fill="#FFE000"/>
<circle cx="393.3" cy="120.8" r="1.35" fill="#FFE000"/>
<circle cx="400.6" cy="119.6" r="1.35" fill="#FFE000"/>
<circle cx="407.9" cy="119.6" r="1.35" fill="#FFE000"/>
<circle cx="414.6" cy="120.8" r="1.35" fill="#FFE000"/>
<circle cx="423.1" cy="111.1" r="1.35" fill="#FFE000"/>
<circle cx="429.7" cy="97" r="1.35" fill="#FFE000"/>
<circle cx="435.3" cy="102.6" r="1.35" fill="#FFE000"/>
<circle cx="440.1" cy="118.4" r="1.35" fill="#FFE000"/>
<circle cx="445" cy="140.3" r="1.35" fill="#FFE000"/>
<circle cx="450" cy="143.2" r="1.35" fill="#FFE000"/>
<path d="M330.70,137.90 C332.08,137.42 336.25,136.07 339.00,135.00 C341.75,133.93 344.65,132.80 347.20,131.50 C349.75,130.20 351.92,128.63 354.30,127.20 C356.68,125.77 359.00,123.97 361.50,122.90 C364.00,121.83 366.68,122.00 369.30,120.80 C371.92,119.60 375.17,117.85 377.20,115.70 C379.23,113.55 380.30,111.00 381.50,107.90 C382.70,104.80 382.52,106.50 384.40,97.10 C386.28,87.70 390.20,55.85 392.80,51.50 C395.40,47.15 398.20,63.92 400.00,71.00 C401.80,78.08 402.38,84.88 403.60,94.00 C404.82,103.12 405.47,117.78 407.30,125.70 C409.13,133.62 412.48,138.58 414.60,141.50 C416.72,144.42 418.10,142.92 420.00,143.20 C421.90,143.48 424.08,143.20 426.00,143.20 C427.92,143.20 429.67,143.20 431.50,143.20 C433.33,143.20 435.08,143.20 437.00,143.20 C438.92,143.20 441.00,143.20 443.00,143.20 C445.00,143.20 447.00,143.20 449.00,143.20 C451.00,143.20 453.00,143.20 455.00,143.20 C457.00,143.20 459.00,143.20 461.00,143.20 C463.00,143.20 465.00,143.20 467.00,143.20 C469.00,143.20 471.00,143.20 473.00,143.20 C475.00,143.20 477.00,143.20 479.00,143.20 C481.00,143.20 484.00,143.20 485.00,143.20" fill="none" stroke="#4DB8DF" stroke-width="1.0"/>
<circle cx="330.7" cy="137.9" r="1.35" fill="#2EA6D8"/>
<circle cx="339" cy="135" r="1.35" fill="#2EA6D8"/>
<circle cx="347.2" cy="131.5" r="1.35" fill="#2EA6D8"/>
<circle cx="354.3" cy="127.2" r="1.35" fill="#2EA6D8"/>
<circle cx="361.5" cy="122.9" r="1.35" fill="#2EA6D8"/>
<circle cx="369.3" cy="120.8" r="1.35" fill="#2EA6D8"/>
<circle cx="377.2" cy="115.7" r="1.35" fill="#2EA6D8"/>
<circle cx="384.4" cy="97.1" r="1.35" fill="#2EA6D8"/>
<circle cx="392.8" cy="51.5" r="1.35" fill="#2EA6D8"/>
<circle cx="400" cy="71" r="1.35" fill="#2EA6D8"/>
<circle cx="407.3" cy="125.7" r="1.35" fill="#2EA6D8"/>
<circle cx="414.6" cy="141.5" r="1.35" fill="#2EA6D8"/>
<circle cx="420" cy="143.2" r="1.35" fill="#2EA6D8"/>
<circle cx="426" cy="143.2" r="1.35" fill="#2EA6D8"/>
<circle cx="431.5" cy="143.2" r="1.35" fill="#2EA6D8"/>
<circle cx="437" cy="143.2" r="1.35" fill="#2EA6D8"/>
<circle cx="443" cy="143.2" r="1.35" fill="#2EA6D8"/>
<circle cx="449" cy="143.2" r="1.35" fill="#2EA6D8"/>
<circle cx="455" cy="143.2" r="1.35" fill="#2EA6D8"/>
<circle cx="461" cy="143.2" r="1.35" fill="#2EA6D8"/>
<circle cx="467" cy="143.2" r="1.35" fill="#2EA6D8"/>
<circle cx="473" cy="143.2" r="1.35" fill="#2EA6D8"/>
<circle cx="479" cy="143.2" r="1.35" fill="#2EA6D8"/>
<circle cx="485" cy="143.2" r="1.35" fill="#2EA6D8"/>
<path d="M330.70,138.60 C332.13,138.25 336.55,137.45 339.30,136.50 C342.05,135.55 344.70,134.68 347.20,132.90 C349.70,131.12 351.80,128.53 354.30,125.80 C356.80,123.07 359.70,116.75 362.20,116.50 C364.70,116.25 367.03,122.17 369.30,124.30 C371.57,126.43 373.28,128.10 375.80,129.30 C378.32,130.50 381.48,130.97 384.40,131.50 C387.32,132.03 390.60,132.25 393.30,132.50 C396.00,132.75 398.17,132.92 400.60,133.00 C403.03,133.08 405.47,133.20 407.90,133.00 C410.33,132.80 412.67,132.42 415.20,131.80 C417.73,131.18 420.57,131.33 423.10,129.30 C425.63,127.27 427.97,123.45 430.40,119.60 C432.83,115.75 435.27,109.32 437.70,106.20 C440.13,103.08 442.57,101.10 445.00,100.90 C447.43,100.70 449.67,101.68 452.30,105.00 C454.93,108.32 458.17,115.93 460.80,120.80 C463.43,125.67 465.67,131.28 468.10,134.20 C470.53,137.12 472.97,137.48 475.40,138.30 C477.83,139.12 480.07,138.37 482.70,139.10 C485.33,139.83 488.40,142.02 491.20,142.70 C494.00,143.38 496.68,143.12 499.50,143.20 C502.32,143.28 506.67,143.20 508.10,143.20" fill="none" stroke="#EE3333" stroke-width="1.0"/>
<circle cx="330.7" cy="138.6" r="1.35" fill="#E01020"/>
<circle cx="339.3" cy="136.5" r="1.35" fill="#E01020"/>
<circle cx="347.2" cy="132.9" r="1.35" fill="#E01020"/>
<circle cx="354.3" cy="125.8" r="1.35" fill="#E01020"/>
<circle cx="362.2" cy="116.5" r="1.35" fill="#E01020"/>
<circle cx="369.3" cy="124.3" r="1.35" fill="#E01020"/>
<circle cx="375.8" cy="129.3" r="1.35" fill="#E01020"/>
<circle cx="384.4" cy="131.5" r="1.35" fill="#E01020"/>
<circle cx="393.3" cy="132.5" r="1.35" fill="#E01020"/>
<circle cx="400.6" cy="133" r="1.35" fill="#E01020"/>
<circle cx="407.9" cy="133" r="1.35" fill="#E01020"/>
<circle cx="415.2" cy="131.8" r="1.35" fill="#E01020"/>
<circle cx="423.1" cy="129.3" r="1.35" fill="#E01020"/>
<circle cx="430.4" cy="119.6" r="1.35" fill="#E01020"/>
<circle cx="437.7" cy="106.2" r="1.35" fill="#E01020"/>
<circle cx="445" cy="100.9" r="1.35" fill="#E01020"/>
<circle cx="452.3" cy="105" r="1.35" fill="#E01020"/>
<circle cx="460.8" cy="120.8" r="1.35" fill="#E01020"/>
<circle cx="468.1" cy="134.2" r="1.35" fill="#E01020"/>
<circle cx="475.4" cy="138.3" r="1.35" fill="#E01020"/>
<circle cx="482.7" cy="139.1" r="1.35" fill="#E01020"/>
<circle cx="491.2" cy="142.7" r="1.35" fill="#E01020"/>
<circle cx="508.1" cy="143.2" r="1.35" fill="#E01020"/>
<path d="M330.70,139.30 C331.42,139.55 333.33,140.80 335.00,140.80 C336.67,140.80 339.03,139.78 340.70,139.30 C342.37,138.82 343.45,138.25 345.00,137.90 C346.55,137.55 348.57,137.08 350.00,137.20 C351.43,137.32 352.40,138.60 353.60,138.60 C354.80,138.60 355.65,138.98 357.20,137.20 C358.75,135.42 361.12,130.05 362.90,127.90 C364.68,125.75 365.98,123.47 367.90,124.30 C369.82,125.13 372.48,132.30 374.40,132.90 C376.32,133.50 377.85,129.08 379.40,127.90 C380.95,126.72 382.03,125.45 383.70,125.80 C385.37,126.15 387.73,130.37 389.40,130.00 C391.07,129.63 391.93,123.50 393.70,123.60 C395.47,123.70 398.05,130.45 400.00,130.60 C401.95,130.75 403.37,128.15 405.40,124.50 C407.43,120.85 410.37,110.33 412.20,108.70 C414.03,107.07 414.38,112.07 416.40,114.70 C418.42,117.33 421.97,125.72 424.30,124.50 C426.63,123.28 428.17,111.58 430.40,107.40 C432.63,103.22 435.67,99.80 437.70,99.40 C439.73,99.00 440.57,100.22 442.60,105.00 C444.63,109.78 447.88,122.30 449.90,128.10 C451.92,133.90 452.27,137.57 454.70,139.80 C457.13,142.03 461.45,141.42 464.50,141.50 C467.55,141.58 470.17,140.90 473.00,140.30 C475.83,139.70 479.07,138.63 481.50,137.90 C483.93,137.17 485.57,135.50 487.60,135.90 C489.63,136.30 491.88,139.08 493.70,140.30 C495.52,141.52 497.70,142.72 498.50,143.20" fill="none" stroke="#2A90E0" stroke-width="1.0"/>
<circle cx="330.7" cy="139.3" r="1.35" fill="#1575D5"/>
<circle cx="335" cy="140.8" r="1.35" fill="#1575D5"/>
<circle cx="340.7" cy="139.3" r="1.35" fill="#1575D5"/>
<circle cx="345" cy="137.9" r="1.35" fill="#1575D5"/>
<circle cx="350" cy="137.2" r="1.35" fill="#1575D5"/>
<circle cx="353.6" cy="138.6" r="1.35" fill="#1575D5"/>
<circle cx="357.2" cy="137.2" r="1.35" fill="#1575D5"/>
<circle cx="362.9" cy="127.9" r="1.35" fill="#1575D5"/>
<circle cx="367.9" cy="124.3" r="1.35" fill="#1575D5"/>
<circle cx="374.4" cy="132.9" r="1.35" fill="#1575D5"/>
<circle cx="379.4" cy="127.9" r="1.35" fill="#1575D5"/>
<circle cx="383.7" cy="125.8" r="1.35" fill="#1575D5"/>
<circle cx="389.4" cy="130" r="1.35" fill="#1575D5"/>
<circle cx="393.7" cy="123.6" r="1.35" fill="#1575D5"/>
<circle cx="400" cy="130.6" r="1.35" fill="#1575D5"/>
<circle cx="405.4" cy="124.5" r="1.35" fill="#1575D5"/>
<circle cx="412.2" cy="108.7" r="1.35" fill="#1575D5"/>
<circle cx="424.3" cy="124.5" r="1.35" fill="#1575D5"/>
<circle cx="430.4" cy="107.4" r="1.35" fill="#1575D5"/>
<circle cx="437.7" cy="99.4" r="1.35" fill="#1575D5"/>
<circle cx="442.6" cy="105" r="1.35" fill="#1575D5"/>
<circle cx="449.9" cy="128.1" r="1.35" fill="#1575D5"/>
<circle cx="454.7" cy="139.8" r="1.35" fill="#1575D5"/>
<circle cx="464.5" cy="141.5" r="1.35" fill="#1575D5"/>
<circle cx="473" cy="140.3" r="1.35" fill="#1575D5"/>
<circle cx="481.5" cy="137.9" r="1.35" fill="#1575D5"/>
<circle cx="487.6" cy="135.9" r="1.35" fill="#1575D5"/>
<circle cx="493.7" cy="140.3" r="1.35" fill="#1575D5"/>
<circle cx="498.5" cy="143.2" r="1.35" fill="#1575D5"/>
<path d="M270.00,300.00 C270.00,298.00 270.18,291.07 270.00,288.00 C269.82,284.93 269.70,283.15 268.90,281.60 C268.10,280.05 267.73,279.52 265.20,278.70 C262.67,277.88 258.48,277.32 253.70,276.70 C248.92,276.08 241.98,275.57 236.50,275.00 C231.02,274.43 227.72,273.97 220.80,273.30 C213.88,272.63 200.67,271.53 195.00,271.00 C189.33,270.47 190.27,270.60 186.80,270.10 C183.33,269.60 178.20,268.77 174.20,268.00 C170.20,267.23 166.43,266.37 162.80,265.50 C159.17,264.63 154.90,263.72 152.40,262.80 C149.90,261.88 149.52,260.77 147.80,260.00 C146.08,259.23 144.00,258.97 142.10,258.20 C140.20,257.43 138.50,256.37 136.40,255.40 C134.30,254.43 132.37,253.55 129.50,252.40 C126.63,251.25 122.72,250.32 119.20,248.50 C115.68,246.68 111.03,243.08 108.40,241.50 C105.77,239.92 104.87,239.72 103.40,239.00 C101.93,238.28 100.87,237.78 99.60,237.20 C98.33,236.62 97.15,236.05 95.80,235.50 C94.45,234.95 93.83,234.57 91.50,233.90 C89.17,233.23 85.00,232.52 81.80,231.50 C78.60,230.48 75.18,228.88 72.30,227.80 C69.42,226.72 66.98,226.30 64.50,225.00 C62.02,223.70 59.25,221.88 57.40,220.00 C55.55,218.12 54.03,214.03 53.40,213.70 C52.77,213.37 53.53,216.62 53.60,218.00 C53.67,219.38 53.68,220.58 53.80,222.00 C53.92,223.42 54.05,224.92 54.30,226.50 C54.55,228.08 54.92,229.92 55.30,231.50 C55.68,233.08 55.82,234.50 56.60,236.00 C57.38,237.50 58.85,239.25 60.00,240.50 C61.15,241.75 62.35,242.55 63.50,243.50 C64.65,244.45 65.77,245.32 66.90,246.20 C68.03,247.08 69.17,247.95 70.30,248.80 C71.43,249.65 72.62,250.52 73.70,251.30 C74.78,252.08 75.78,252.78 76.80,253.50 C77.82,254.22 78.80,254.82 79.80,255.60 C80.80,256.38 81.80,257.33 82.80,258.20 C83.80,259.07 84.80,259.95 85.80,260.80 C86.80,261.65 87.80,262.45 88.80,263.30 C89.80,264.15 90.87,265.03 91.80,265.90 C92.73,266.77 93.55,267.63 94.40,268.50 C95.25,269.37 96.05,270.17 96.90,271.10 C97.75,272.03 98.63,273.10 99.50,274.10 C100.37,275.10 101.67,276.60 102.10,277.10" fill="none" stroke="#8C7B75" stroke-width="1.0"/>
<circle cx="270" cy="300" r="1.35" fill="#6B5A55"/>
<circle cx="270" cy="288" r="1.35" fill="#6B5A55"/>
<circle cx="268.9" cy="281.6" r="1.35" fill="#6B5A55"/>
<circle cx="265.2" cy="278.7" r="1.35" fill="#6B5A55"/>
<circle cx="253.7" cy="276.7" r="1.35" fill="#6B5A55"/>
<circle cx="236.5" cy="275" r="1.35" fill="#6B5A55"/>
<circle cx="220.8" cy="273.3" r="1.35" fill="#6B5A55"/>
<circle cx="195" cy="271" r="1.35" fill="#6B5A55"/>
<circle cx="186.8" cy="270.1" r="1.35" fill="#6B5A55"/>
<circle cx="174.2" cy="268" r="1.35" fill="#6B5A55"/>
<circle cx="162.8" cy="265.5" r="1.35" fill="#6B5A55"/>
<circle cx="152.4" cy="262.8" r="1.35" fill="#6B5A55"/>
<circle cx="147.8" cy="260" r="1.35" fill="#6B5A55"/>
<circle cx="142.1" cy="258.2" r="1.35" fill="#6B5A55"/>
<circle cx="136.4" cy="255.4" r="1.35" fill="#6B5A55"/>
<circle cx="129.5" cy="252.4" r="1.35" fill="#6B5A55"/>
<circle cx="119.2" cy="248.5" r="1.35" fill="#6B5A55"/>
<circle cx="108.4" cy="241.5" r="1.35" fill="#6B5A55"/>
<circle cx="103.4" cy="239" r="1.35" fill="#6B5A55"/>
<circle cx="99.6" cy="237.2" r="1.35" fill="#6B5A55"/>
<circle cx="95.8" cy="235.5" r="1.35" fill="#6B5A55"/>
<circle cx="91.5" cy="233.9" r="1.35" fill="#6B5A55"/>
<circle cx="81.8" cy="231.5" r="1.35" fill="#6B5A55"/>
<circle cx="72.3" cy="227.8" r="1.35" fill="#6B5A55"/>
<circle cx="64.5" cy="225" r="1.35" fill="#6B5A55"/>
<circle cx="57.4" cy="220" r="1.35" fill="#6B5A55"/>
<circle cx="53.4" cy="213.7" r="1.35" fill="#6B5A55"/>
<circle cx="53.6" cy="218" r="1.35" fill="#6B5A55"/>
<circle cx="53.8" cy="222" r="1.35" fill="#6B5A55"/>
<circle cx="54.3" cy="226.5" r="1.35" fill="#6B5A55"/>
<circle cx="55.3" cy="231.5" r="1.35" fill="#6B5A55"/>
<circle cx="56.6" cy="236" r="1.35" fill="#6B5A55"/>
<circle cx="60" cy="240.5" r="1.35" fill="#6B5A55"/>
<circle cx="63.5" cy="243.5" r="1.35" fill="#6B5A55"/>
<circle cx="66.9" cy="246.2" r="1.35" fill="#6B5A55"/>
<circle cx="70.3" cy="248.8" r="1.35" fill="#6B5A55"/>
<circle cx="73.7" cy="251.3" r="1.35" fill="#6B5A55"/>
<circle cx="76.8" cy="253.5" r="1.35" fill="#6B5A55"/>
<circle cx="79.8" cy="255.6" r="1.35" fill="#6B5A55"/>
<circle cx="82.8" cy="258.2" r="1.35" fill="#6B5A55"/>
<circle cx="85.8" cy="260.8" r="1.35" fill="#6B5A55"/>
<circle cx="88.8" cy="263.3" r="1.35" fill="#6B5A55"/>
<circle cx="91.8" cy="265.9" r="1.35" fill="#6B5A55"/>
<circle cx="94.4" cy="268.5" r="1.35" fill="#6B5A55"/>
<circle cx="96.9" cy="271.1" r="1.35" fill="#6B5A55"/>
<circle cx="99.5" cy="274.1" r="1.35" fill="#6B5A55"/>
<circle cx="102.1" cy="277.1" r="1.35" fill="#6B5A55"/>
<path d="M270.00,288.80 C269.68,287.75 270.10,283.80 268.10,282.50 C266.10,281.20 265.88,281.48 258.00,281.00 C250.12,280.52 231.30,280.07 220.80,279.60 C210.30,279.13 203.15,278.52 195.00,278.20 C186.85,277.88 177.27,278.17 171.90,277.70 C166.53,277.23 166.23,276.63 162.80,275.40 C159.37,274.17 154.37,271.92 151.30,270.30 C148.23,268.68 146.32,267.03 144.40,265.70 C142.48,264.37 141.90,263.93 139.80,262.30 C137.70,260.67 133.90,257.35 131.80,255.90 C129.70,254.45 129.50,254.75 127.20,253.60 C124.90,252.45 121.70,250.77 118.00,249.00 C114.30,247.23 108.67,244.83 105.00,243.00 C101.33,241.17 98.33,239.50 96.00,238.00 C93.67,236.50 92.08,235.33 91.00,234.00 C89.92,232.67 89.92,231.33 89.50,230.00 C89.08,228.67 88.83,227.33 88.50,226.00 C88.17,224.67 87.83,223.33 87.50,222.00 C87.17,220.67 86.80,219.17 86.50,218.00 C86.20,216.83 85.87,215.85 85.70,215.00 C85.53,214.15 85.40,212.73 85.50,212.90 C85.60,213.07 86.02,214.82 86.30,216.00 C86.58,217.18 86.92,218.67 87.20,220.00 C87.48,221.33 87.73,222.67 88.00,224.00 C88.27,225.33 88.55,226.67 88.80,228.00 C89.05,229.33 89.28,230.68 89.50,232.00 C89.72,233.32 89.72,234.53 90.10,235.90 C90.48,237.27 91.08,238.77 91.80,240.20 C92.52,241.63 93.53,243.28 94.40,244.50 C95.27,245.72 96.15,246.50 97.00,247.50 C97.85,248.50 98.58,249.58 99.50,250.50 C100.42,251.42 101.50,252.15 102.50,253.00 C103.50,253.85 104.50,254.67 105.50,255.60 C106.50,256.53 107.50,257.60 108.50,258.60 C109.50,259.60 110.35,260.45 111.50,261.60 C112.65,262.75 114.10,264.20 115.40,265.50 C116.70,266.80 117.93,267.75 119.30,269.40 C120.67,271.05 122.88,274.40 123.60,275.40" fill="none" stroke="#F5B0B0" stroke-width="1.0"/>
<path d="M85.50,212.90 C85.62,213.50 85.95,215.23 86.20,216.50 C86.45,217.77 86.72,219.17 87.00,220.50 C87.28,221.83 87.60,223.17 87.90,224.50 C88.20,225.83 88.52,227.17 88.80,228.50 C89.08,229.83 89.32,231.17 89.60,232.50 C89.88,233.83 90.18,235.25 90.50,236.50 C90.82,237.75 91.33,239.42 91.50,240.00" fill="none" stroke="#F4A0A0" stroke-width="1.9" stroke-linecap="round" stroke-linejoin="round"/>
<circle cx="270" cy="288.8" r="1.35" fill="#F4A0A0"/>
<circle cx="268.1" cy="282.5" r="1.35" fill="#F4A0A0"/>
<circle cx="258" cy="281" r="1.35" fill="#F4A0A0"/>
<circle cx="220.8" cy="279.6" r="1.35" fill="#F4A0A0"/>
<circle cx="171.9" cy="277.7" r="1.35" fill="#F4A0A0"/>
<circle cx="162.8" cy="275.4" r="1.35" fill="#F4A0A0"/>
<circle cx="151.3" cy="270.3" r="1.35" fill="#F4A0A0"/>
<circle cx="144.4" cy="265.7" r="1.35" fill="#F4A0A0"/>
<circle cx="139.8" cy="262.3" r="1.35" fill="#F4A0A0"/>
<circle cx="131.8" cy="255.9" r="1.35" fill="#F4A0A0"/>
<circle cx="91" cy="234" r="1.35" fill="#F4A0A0"/>
<circle cx="89.5" cy="230" r="1.35" fill="#F4A0A0"/>
<circle cx="88.5" cy="226" r="1.35" fill="#F4A0A0"/>
<circle cx="87.5" cy="222" r="1.35" fill="#F4A0A0"/>
<circle cx="86.5" cy="218" r="1.35" fill="#F4A0A0"/>
<circle cx="85.7" cy="215" r="1.35" fill="#F4A0A0"/>
<circle cx="85.5" cy="212.9" r="1.35" fill="#F4A0A0"/>
<circle cx="86.3" cy="216" r="1.35" fill="#F4A0A0"/>
<circle cx="87.2" cy="220" r="1.35" fill="#F4A0A0"/>
<circle cx="88" cy="224" r="1.35" fill="#F4A0A0"/>
<circle cx="88.8" cy="228" r="1.35" fill="#F4A0A0"/>
<circle cx="89.5" cy="232" r="1.35" fill="#F4A0A0"/>
<circle cx="90.1" cy="235.9" r="1.35" fill="#F4A0A0"/>
<circle cx="91.8" cy="240.2" r="1.35" fill="#F4A0A0"/>
<circle cx="94.4" cy="244.5" r="1.35" fill="#F4A0A0"/>
<circle cx="99.5" cy="250.5" r="1.35" fill="#F4A0A0"/>
<circle cx="105.5" cy="255.6" r="1.35" fill="#F4A0A0"/>
<circle cx="111.5" cy="261.6" r="1.35" fill="#F4A0A0"/>
<circle cx="119.3" cy="269.4" r="1.35" fill="#F4A0A0"/>
<circle cx="123.6" cy="275.4" r="1.35" fill="#F4A0A0"/>
<path d="M270.00,301.00 C269.82,300.77 269.43,300.60 268.90,299.60 C268.37,298.60 267.42,296.52 266.80,295.00 C266.18,293.48 265.58,291.83 265.20,290.50 C264.82,289.17 264.82,288.15 264.50,287.00 C264.18,285.85 263.68,284.75 263.30,283.60 C262.92,282.45 262.77,281.45 262.20,280.10 C261.63,278.75 264.27,276.68 259.90,275.50 C255.53,274.32 244.18,273.90 236.00,273.00 C227.82,272.10 217.63,270.93 210.80,270.10 C203.97,269.27 199.38,268.85 195.00,268.00 C190.62,267.15 188.35,265.95 184.50,265.00 C180.65,264.05 177.63,263.75 171.90,262.30 C166.17,260.85 155.45,257.95 150.10,256.30 C144.75,254.65 142.67,253.35 139.80,252.40 C136.93,251.45 135.57,251.37 132.90,250.60 C130.23,249.83 126.85,248.83 123.80,247.80 C120.75,246.77 117.63,245.53 114.60,244.40 C111.57,243.27 108.18,241.97 105.60,241.00 C103.02,240.03 101.00,239.33 99.10,238.60 C97.20,237.87 96.30,237.52 94.20,236.60 C92.10,235.68 88.83,234.03 86.50,233.10 C84.17,232.17 82.03,231.62 80.20,231.00 C78.37,230.38 77.33,230.07 75.50,229.40 C73.67,228.73 71.03,227.78 69.20,227.00 C67.37,226.22 65.55,225.35 64.50,224.70 C63.45,224.05 63.43,223.63 62.90,223.10 C62.37,222.57 61.90,222.03 61.30,221.50 C60.70,220.97 59.95,220.42 59.30,219.90 C58.65,219.38 58.05,219.05 57.40,218.40 C56.75,217.75 56.07,216.78 55.40,216.00 C54.73,215.22 53.70,213.78 53.40,213.70 C53.10,213.62 53.53,214.90 53.60,215.50 C53.67,216.10 53.73,216.72 53.80,217.30 C53.87,217.88 53.93,218.43 54.00,219.00 C54.07,219.57 54.10,219.98 54.20,220.70 C54.30,221.42 54.47,222.42 54.60,223.30 C54.73,224.18 54.87,225.07 55.00,226.00 C55.13,226.93 55.27,227.93 55.40,228.90 C55.53,229.87 55.47,231.12 55.80,231.80 C56.13,232.48 56.87,232.62 57.40,233.00 C57.93,233.38 57.95,233.38 59.00,234.10 C60.05,234.82 62.38,236.12 63.70,237.30 C65.02,238.48 65.80,240.03 66.90,241.20 C68.00,242.37 69.17,243.33 70.30,244.30 C71.43,245.27 72.55,246.12 73.70,247.00 C74.85,247.88 76.05,248.73 77.20,249.60 C78.35,250.47 79.47,251.33 80.60,252.20 C81.73,253.07 82.85,253.95 84.00,254.80 C85.15,255.65 86.50,256.35 87.50,257.30 C88.50,258.25 89.15,259.35 90.00,260.50 C90.85,261.65 91.80,263.15 92.60,264.20 C93.40,265.25 94.08,265.93 94.80,266.80 C95.52,267.67 96.28,268.45 96.90,269.40 C97.52,270.35 98.12,271.50 98.50,272.50 C98.88,273.50 99.08,274.92 99.20,275.40" fill="none" stroke="#30B060" stroke-width="1.0"/>
<path d="M53.40,213.70 C53.45,214.25 53.58,215.87 53.70,217.00 C53.82,218.13 53.95,219.33 54.10,220.50 C54.25,221.67 54.42,222.75 54.60,224.00 C54.78,225.25 55.00,226.70 55.20,228.00 C55.40,229.30 55.70,231.17 55.80,231.80" fill="none" stroke="#0A9A3A" stroke-width="1.9" stroke-linecap="round" stroke-linejoin="round"/>
<path d="M53.40,213.70 C53.75,214.12 54.82,215.42 55.50,216.20 C56.18,216.98 56.83,217.77 57.50,218.40 C58.17,219.03 58.83,219.47 59.50,220.00 C60.17,220.53 61.17,221.33 61.50,221.60" fill="none" stroke="#0A9A3A" stroke-width="1.9" stroke-linecap="round" stroke-linejoin="round"/>
<circle cx="268.9" cy="299.6" r="1.35" fill="#0A9A3A"/>
<circle cx="266.8" cy="295" r="1.35" fill="#0A9A3A"/>
<circle cx="265.2" cy="290.5" r="1.35" fill="#0A9A3A"/>
<circle cx="264.5" cy="287" r="1.35" fill="#0A9A3A"/>
<circle cx="263.3" cy="283.6" r="1.35" fill="#0A9A3A"/>
<circle cx="262.2" cy="280.1" r="1.35" fill="#0A9A3A"/>
<circle cx="259.9" cy="275.5" r="1.35" fill="#0A9A3A"/>
<circle cx="210.8" cy="270.1" r="1.35" fill="#0A9A3A"/>
<circle cx="184.5" cy="265" r="1.35" fill="#0A9A3A"/>
<circle cx="171.9" cy="262.3" r="1.35" fill="#0A9A3A"/>
<circle cx="150.1" cy="256.3" r="1.35" fill="#0A9A3A"/>
<circle cx="139.8" cy="252.4" r="1.35" fill="#0A9A3A"/>
<circle cx="132.9" cy="250.6" r="1.35" fill="#0A9A3A"/>
<circle cx="123.8" cy="247.8" r="1.35" fill="#0A9A3A"/>
<circle cx="114.6" cy="244.4" r="1.35" fill="#0A9A3A"/>
<circle cx="105.6" cy="241" r="1.35" fill="#0A9A3A"/>
<circle cx="99.1" cy="238.6" r="1.35" fill="#0A9A3A"/>
<circle cx="94.2" cy="236.6" r="1.35" fill="#0A9A3A"/>
<circle cx="86.5" cy="233.1" r="1.35" fill="#0A9A3A"/>
<circle cx="80.2" cy="231" r="1.35" fill="#0A9A3A"/>
<circle cx="75.5" cy="229.4" r="1.35" fill="#0A9A3A"/>
<circle cx="69.2" cy="227" r="1.35" fill="#0A9A3A"/>
<circle cx="64.5" cy="224.7" r="1.35" fill="#0A9A3A"/>
<circle cx="62.9" cy="223.1" r="1.35" fill="#0A9A3A"/>
<circle cx="61.3" cy="221.5" r="1.35" fill="#0A9A3A"/>
<circle cx="59.3" cy="219.9" r="1.35" fill="#0A9A3A"/>
<circle cx="57.4" cy="218.4" r="1.35" fill="#0A9A3A"/>
<circle cx="55.4" cy="216" r="1.35" fill="#0A9A3A"/>
<circle cx="53.4" cy="213.7" r="1.35" fill="#0A9A3A"/>
<circle cx="53.6" cy="215.5" r="1.35" fill="#0A9A3A"/>
<circle cx="53.8" cy="217.3" r="1.35" fill="#0A9A3A"/>
<circle cx="54" cy="219" r="1.35" fill="#0A9A3A"/>
<circle cx="54.2" cy="220.7" r="1.35" fill="#0A9A3A"/>
<circle cx="54.6" cy="223.3" r="1.35" fill="#0A9A3A"/>
<circle cx="55" cy="226" r="1.35" fill="#0A9A3A"/>
<circle cx="55.4" cy="228.9" r="1.35" fill="#0A9A3A"/>
<circle cx="55.8" cy="231.8" r="1.35" fill="#0A9A3A"/>
<circle cx="57.4" cy="233" r="1.35" fill="#0A9A3A"/>
<circle cx="59" cy="234.1" r="1.35" fill="#0A9A3A"/>
<circle cx="63.7" cy="237.3" r="1.35" fill="#0A9A3A"/>
<circle cx="66.9" cy="241.2" r="1.35" fill="#0A9A3A"/>
<circle cx="70.3" cy="244.3" r="1.35" fill="#0A9A3A"/>
<circle cx="73.7" cy="247" r="1.35" fill="#0A9A3A"/>
<circle cx="77.2" cy="249.6" r="1.35" fill="#0A9A3A"/>
<circle cx="80.6" cy="252.2" r="1.35" fill="#0A9A3A"/>
<circle cx="84" cy="254.8" r="1.35" fill="#0A9A3A"/>
<circle cx="87.5" cy="257.3" r="1.35" fill="#0A9A3A"/>
<circle cx="90" cy="260.5" r="1.35" fill="#0A9A3A"/>
<circle cx="92.6" cy="264.2" r="1.35" fill="#0A9A3A"/>
<circle cx="94.8" cy="266.8" r="1.35" fill="#0A9A3A"/>
<circle cx="96.9" cy="269.4" r="1.35" fill="#0A9A3A"/>
<circle cx="98.5" cy="272.5" r="1.35" fill="#0A9A3A"/>
<circle cx="99.2" cy="275.4" r="1.35" fill="#0A9A3A"/>
<path d="M270.00,285.00 C269.92,282.28 270.15,271.98 269.50,268.70 C268.85,265.42 271.45,266.50 266.10,265.30 C260.75,264.10 248.40,262.50 237.40,261.50 C226.40,260.50 210.05,259.97 200.10,259.30 C190.15,258.63 185.27,258.45 177.70,257.50 C170.13,256.55 161.78,254.95 154.70,253.60 C147.62,252.25 140.35,250.63 135.20,249.40 C130.05,248.17 127.27,247.42 123.80,246.20 C120.33,244.98 117.07,243.42 114.40,242.10 C111.73,240.78 109.80,239.58 107.80,238.30 C105.80,237.02 104.12,235.68 102.40,234.40 C100.68,233.12 99.60,231.87 97.50,230.60 C95.40,229.33 92.72,228.07 89.80,226.80 C86.88,225.53 82.63,224.47 80.00,223.00 C77.37,221.53 75.53,219.55 74.00,218.00 C72.47,216.45 71.33,214.12 70.80,213.70 C70.27,213.28 70.80,214.87 70.80,215.50 C70.80,216.13 70.80,216.83 70.80,217.50 C70.80,218.17 70.80,218.83 70.80,219.50 C70.80,220.17 70.80,220.83 70.80,221.50 C70.80,222.17 70.80,222.83 70.80,223.50 C70.80,224.17 70.72,224.83 70.80,225.50 C70.88,226.17 71.10,226.83 71.30,227.50 C71.50,228.17 71.77,228.87 72.00,229.50 C72.23,230.13 72.45,230.72 72.70,231.30 C72.95,231.88 73.20,232.45 73.50,233.00 C73.80,233.55 74.15,234.07 74.50,234.60 C74.85,235.13 75.22,235.67 75.60,236.20 C75.98,236.73 76.40,237.27 76.80,237.80 C77.20,238.33 77.58,238.88 78.00,239.40 C78.42,239.92 78.87,240.40 79.30,240.90 C79.73,241.40 80.12,241.78 80.60,242.40 C81.08,243.02 81.63,243.83 82.20,244.60 C82.77,245.37 82.55,245.60 84.00,247.00 C85.45,248.40 88.17,250.98 90.90,253.00 C93.63,255.02 96.67,257.23 100.40,259.10 C104.13,260.97 109.43,262.48 113.30,264.20 C117.17,265.92 119.88,267.53 123.60,269.40 C127.32,271.27 133.60,274.40 135.60,275.40" fill="none" stroke="#5252BA" stroke-width="1.0"/>
<path d="M70.80,213.70 C70.80,214.42 70.80,216.62 70.80,218.00 C70.80,219.38 70.78,220.67 70.80,222.00 C70.82,223.33 70.73,224.75 70.90,226.00 C71.07,227.25 71.42,228.37 71.80,229.50 C72.18,230.63 72.67,231.78 73.20,232.80 C73.73,233.82 74.33,234.63 75.00,235.60 C75.67,236.57 76.45,237.65 77.20,238.60 C77.95,239.55 79.12,240.85 79.50,241.30" fill="none" stroke="#1A1A8C" stroke-width="1.9" stroke-linecap="round" stroke-linejoin="round"/>
<circle cx="269.5" cy="268.7" r="1.35" fill="#1A1A8C"/>
<circle cx="266.1" cy="265.3" r="1.35" fill="#1A1A8C"/>
<circle cx="237.4" cy="261.5" r="1.35" fill="#1A1A8C"/>
<circle cx="177.7" cy="257.5" r="1.35" fill="#1A1A8C"/>
<circle cx="154.7" cy="253.6" r="1.35" fill="#1A1A8C"/>
<circle cx="135.2" cy="249.4" r="1.35" fill="#1A1A8C"/>
<circle cx="123.8" cy="246.2" r="1.35" fill="#1A1A8C"/>
<circle cx="114.4" cy="242.1" r="1.35" fill="#1A1A8C"/>
<circle cx="107.8" cy="238.3" r="1.35" fill="#1A1A8C"/>
<circle cx="102.4" cy="234.4" r="1.35" fill="#1A1A8C"/>
<circle cx="97.5" cy="230.6" r="1.35" fill="#1A1A8C"/>
<circle cx="89.8" cy="226.8" r="1.35" fill="#1A1A8C"/>
<circle cx="74" cy="218" r="1.35" fill="#1A1A8C"/>
<circle cx="70.8" cy="213.7" r="1.35" fill="#1A1A8C"/>
<circle cx="70.8" cy="215.5" r="1.35" fill="#1A1A8C"/>
<circle cx="70.8" cy="217.5" r="1.35" fill="#1A1A8C"/>
<circle cx="70.8" cy="219.5" r="1.35" fill="#1A1A8C"/>
<circle cx="70.8" cy="221.5" r="1.35" fill="#1A1A8C"/>
<circle cx="70.8" cy="223.5" r="1.35" fill="#1A1A8C"/>
<circle cx="70.8" cy="225.5" r="1.35" fill="#1A1A8C"/>
<circle cx="71.3" cy="227.5" r="1.35" fill="#1A1A8C"/>
<circle cx="72" cy="229.5" r="1.35" fill="#1A1A8C"/>
<circle cx="72.7" cy="231.3" r="1.35" fill="#1A1A8C"/>
<circle cx="73.5" cy="233" r="1.35" fill="#1A1A8C"/>
<circle cx="74.5" cy="234.6" r="1.35" fill="#1A1A8C"/>
<circle cx="75.6" cy="236.2" r="1.35" fill="#1A1A8C"/>
<circle cx="76.8" cy="237.8" r="1.35" fill="#1A1A8C"/>
<circle cx="78" cy="239.4" r="1.35" fill="#1A1A8C"/>
<circle cx="79.3" cy="240.9" r="1.35" fill="#1A1A8C"/>
<circle cx="80.6" cy="242.4" r="1.35" fill="#1A1A8C"/>
<circle cx="82.2" cy="244.6" r="1.35" fill="#1A1A8C"/>
<circle cx="84" cy="247" r="1.35" fill="#1A1A8C"/>
<circle cx="90.9" cy="253" r="1.35" fill="#1A1A8C"/>
<circle cx="100.4" cy="259.1" r="1.35" fill="#1A1A8C"/>
<circle cx="113.3" cy="264.2" r="1.35" fill="#1A1A8C"/>
<circle cx="123.6" cy="269.4" r="1.35" fill="#1A1A8C"/>
<circle cx="135.6" cy="275.4" r="1.35" fill="#1A1A8C"/>
<path d="M270.00,305.40 C270.00,304.52 270.00,304.33 270.00,300.10 C270.00,295.87 270.00,286.08 270.00,280.00 C270.00,273.92 270.03,266.83 270.00,263.60 C269.97,260.37 270.33,261.67 269.80,260.60 C269.27,259.53 269.00,258.38 266.80,257.20 C264.60,256.02 264.85,254.78 256.60,253.50 C248.35,252.22 226.72,250.33 217.30,249.50 C207.88,248.67 208.43,249.05 200.10,248.50 C191.77,247.95 175.82,247.27 167.30,246.20 C158.78,245.13 153.58,243.47 149.00,242.10 C144.42,240.73 142.75,239.28 139.80,238.00 C136.85,236.72 134.08,235.63 131.30,234.40 C128.52,233.17 126.38,231.87 123.10,230.60 C119.82,229.33 117.15,228.17 111.60,226.80 C106.05,225.43 95.90,223.87 89.80,222.40 C83.70,220.93 78.83,219.45 75.00,218.00 C71.17,216.55 68.17,214.12 66.80,213.70 C65.43,213.28 66.80,214.87 66.80,215.50 C66.80,216.13 66.80,216.83 66.80,217.50 C66.80,218.17 66.80,218.83 66.80,219.50 C66.80,220.17 66.80,220.83 66.80,221.50 C66.80,222.17 66.80,222.83 66.80,223.50 C66.80,224.17 66.72,224.87 66.80,225.50 C66.88,226.13 67.05,226.72 67.30,227.30 C67.55,227.88 67.93,228.47 68.30,229.00 C68.67,229.53 69.10,230.00 69.50,230.50 C69.90,231.00 70.32,231.50 70.70,232.00 C71.08,232.50 71.43,233.00 71.80,233.50 C72.17,234.00 72.53,234.52 72.90,235.00 C73.27,235.48 73.63,235.93 74.00,236.40 C74.37,236.87 74.73,237.32 75.10,237.80 C75.47,238.28 75.83,238.82 76.20,239.30 C76.57,239.78 76.92,240.25 77.30,240.70 C77.68,241.15 78.08,241.55 78.50,242.00 C78.92,242.45 79.38,242.93 79.80,243.40 C80.22,243.87 80.58,244.33 81.00,244.80 C81.42,245.27 81.58,245.40 82.30,246.20 C83.02,247.00 84.28,248.47 85.30,249.60 C86.32,250.73 87.38,251.93 88.40,253.00 C89.42,254.07 90.40,254.98 91.40,256.00 C92.40,257.02 93.05,257.73 94.40,259.10 C95.75,260.47 98.15,262.38 99.50,264.20 C100.85,266.02 101.50,268.13 102.50,270.00 C103.50,271.87 105.00,274.50 105.50,275.40" fill="none" stroke="#4a4a4a" stroke-width="1.0"/>
<path d="M66.80,213.70 C66.80,214.42 66.80,216.62 66.80,218.00 C66.80,219.38 66.80,220.67 66.80,222.00 C66.80,223.33 66.63,224.92 66.80,226.00 C66.97,227.08 67.35,227.73 67.80,228.50 C68.25,229.27 68.80,229.72 69.50,230.60 C70.20,231.48 71.17,232.73 72.00,233.80 C72.83,234.87 73.63,235.88 74.50,237.00 C75.37,238.12 76.28,239.40 77.20,240.50 C78.12,241.60 79.53,243.08 80.00,243.60" fill="none" stroke="#111111" stroke-width="1.9" stroke-linecap="round" stroke-linejoin="round"/>
<circle cx="270" cy="305.4" r="1.35" fill="#111111"/>
<circle cx="270" cy="300.1" r="1.35" fill="#111111"/>
<circle cx="270" cy="263.6" r="1.35" fill="#111111"/>
<circle cx="269.8" cy="260.6" r="1.35" fill="#111111"/>
<circle cx="266.8" cy="257.2" r="1.35" fill="#111111"/>
<circle cx="256.6" cy="253.5" r="1.35" fill="#111111"/>
<circle cx="217.3" cy="249.5" r="1.35" fill="#111111"/>
<circle cx="167.3" cy="246.2" r="1.35" fill="#111111"/>
<circle cx="149" cy="242.1" r="1.35" fill="#111111"/>
<circle cx="139.8" cy="238" r="1.35" fill="#111111"/>
<circle cx="131.3" cy="234.4" r="1.35" fill="#111111"/>
<circle cx="123.1" cy="230.6" r="1.35" fill="#111111"/>
<circle cx="111.6" cy="226.8" r="1.35" fill="#111111"/>
<circle cx="89.8" cy="222.4" r="1.35" fill="#111111"/>
<circle cx="66.8" cy="213.7" r="1.35" fill="#111111"/>
<circle cx="66.8" cy="215.5" r="1.35" fill="#111111"/>
<circle cx="66.8" cy="217.5" r="1.35" fill="#111111"/>
<circle cx="66.8" cy="219.5" r="1.35" fill="#111111"/>
<circle cx="66.8" cy="221.5" r="1.35" fill="#111111"/>
<circle cx="66.8" cy="223.5" r="1.35" fill="#111111"/>
<circle cx="66.8" cy="225.5" r="1.35" fill="#111111"/>
<circle cx="67.3" cy="227.3" r="1.35" fill="#111111"/>
<circle cx="68.3" cy="229" r="1.35" fill="#111111"/>
<circle cx="69.5" cy="230.5" r="1.35" fill="#111111"/>
<circle cx="70.7" cy="232" r="1.35" fill="#111111"/>
<circle cx="71.8" cy="233.5" r="1.35" fill="#111111"/>
<circle cx="72.9" cy="235" r="1.35" fill="#111111"/>
<circle cx="74" cy="236.4" r="1.35" fill="#111111"/>
<circle cx="75.1" cy="237.8" r="1.35" fill="#111111"/>
<circle cx="76.2" cy="239.3" r="1.35" fill="#111111"/>
<circle cx="77.3" cy="240.7" r="1.35" fill="#111111"/>
<circle cx="78.5" cy="242" r="1.35" fill="#111111"/>
<circle cx="79.8" cy="243.4" r="1.35" fill="#111111"/>
<circle cx="81" cy="244.8" r="1.35" fill="#111111"/>
<circle cx="82.3" cy="246.2" r="1.35" fill="#111111"/>
<circle cx="85.3" cy="249.6" r="1.35" fill="#111111"/>
<circle cx="88.4" cy="253" r="1.35" fill="#111111"/>
<circle cx="91.4" cy="256" r="1.35" fill="#111111"/>
<circle cx="94.4" cy="259.1" r="1.35" fill="#111111"/>
<circle cx="99.5" cy="264.2" r="1.35" fill="#111111"/>
<circle cx="102.5" cy="270" r="1.35" fill="#111111"/>
<circle cx="105.5" cy="275.4" r="1.35" fill="#111111"/>
<path d="M270.00,292.80 C270.00,292.17 270.00,290.30 270.00,289.00 C270.00,287.70 270.00,286.33 270.00,285.00 C270.00,283.67 270.00,282.33 270.00,281.00 C270.00,279.67 270.00,278.33 270.00,277.00 C270.00,275.67 270.08,274.17 270.00,273.00 C269.92,271.83 271.58,270.62 269.50,270.00 C267.42,269.38 266.82,270.08 257.50,269.30 C248.18,268.52 224.02,266.68 213.60,265.30 C203.18,263.92 200.42,262.30 195.00,261.00 C189.58,259.70 185.52,258.73 181.10,257.50 C176.68,256.27 172.32,254.83 168.50,253.60 C164.68,252.37 161.07,251.33 158.20,250.10 C155.33,248.87 153.60,247.53 151.30,246.20 C149.00,244.87 146.92,243.42 144.40,242.10 C141.88,240.78 139.57,239.62 136.20,238.30 C132.83,236.98 129.57,235.48 124.20,234.20 C118.83,232.92 109.37,231.92 104.00,230.60 C98.63,229.28 95.08,227.67 92.00,226.30 C88.92,224.93 87.83,223.87 85.50,222.40 C83.17,220.93 80.07,218.95 78.00,217.50 C75.93,216.05 73.85,213.78 73.10,213.70 C72.35,213.62 73.30,215.78 73.50,217.00 C73.70,218.22 73.97,219.67 74.30,221.00 C74.63,222.33 74.90,223.47 75.50,225.00 C76.10,226.53 77.15,228.78 77.90,230.20 C78.65,231.62 79.02,232.25 80.00,233.50 C80.98,234.75 82.43,236.27 83.80,237.70 C85.17,239.13 86.43,240.40 88.20,242.10 C89.97,243.80 92.23,246.50 94.40,247.90 C96.57,249.30 99.20,249.50 101.20,250.50 C103.20,251.50 104.38,252.77 106.40,253.90 C108.42,255.03 111.30,256.02 113.30,257.30 C115.30,258.58 116.55,259.73 118.40,261.60 C120.25,263.47 122.40,266.07 124.40,268.50 C126.40,270.93 129.40,274.92 130.40,276.20" fill="none" stroke="#5CCCE0" stroke-width="1.0"/>
<circle cx="270" cy="292.8" r="1.35" fill="#3CC0DA"/>
<circle cx="270" cy="289" r="1.35" fill="#3CC0DA"/>
<circle cx="270" cy="285" r="1.35" fill="#3CC0DA"/>
<circle cx="270" cy="281" r="1.35" fill="#3CC0DA"/>
<circle cx="270" cy="277" r="1.35" fill="#3CC0DA"/>
<circle cx="270" cy="273" r="1.35" fill="#3CC0DA"/>
<circle cx="269.5" cy="270" r="1.35" fill="#3CC0DA"/>
<circle cx="257.5" cy="269.3" r="1.35" fill="#3CC0DA"/>
<circle cx="213.6" cy="265.3" r="1.35" fill="#3CC0DA"/>
<circle cx="181.1" cy="257.5" r="1.35" fill="#3CC0DA"/>
<circle cx="168.5" cy="253.6" r="1.35" fill="#3CC0DA"/>
<circle cx="158.2" cy="250.1" r="1.35" fill="#3CC0DA"/>
<circle cx="151.3" cy="246.2" r="1.35" fill="#3CC0DA"/>
<circle cx="144.4" cy="242.1" r="1.35" fill="#3CC0DA"/>
<circle cx="136.2" cy="238.3" r="1.35" fill="#3CC0DA"/>
<circle cx="124.2" cy="234.2" r="1.35" fill="#3CC0DA"/>
<circle cx="104" cy="230.6" r="1.35" fill="#3CC0DA"/>
<circle cx="85.5" cy="222.4" r="1.35" fill="#3CC0DA"/>
<circle cx="73.1" cy="213.7" r="1.35" fill="#3CC0DA"/>
<circle cx="73.5" cy="217" r="1.35" fill="#3CC0DA"/>
<circle cx="74.3" cy="221" r="1.35" fill="#3CC0DA"/>
<circle cx="75.5" cy="225" r="1.35" fill="#3CC0DA"/>
<circle cx="77.9" cy="230.2" r="1.35" fill="#3CC0DA"/>
<circle cx="83.8" cy="237.7" r="1.35" fill="#3CC0DA"/>
<circle cx="88.2" cy="242.1" r="1.35" fill="#3CC0DA"/>
<circle cx="94.4" cy="247.9" r="1.35" fill="#3CC0DA"/>
<circle cx="101.2" cy="250.5" r="1.35" fill="#3CC0DA"/>
<circle cx="106.4" cy="253.9" r="1.35" fill="#3CC0DA"/>
<circle cx="113.3" cy="257.3" r="1.35" fill="#3CC0DA"/>
<circle cx="118.4" cy="261.6" r="1.35" fill="#3CC0DA"/>
<circle cx="124.4" cy="268.5" r="1.35" fill="#3CC0DA"/>
<circle cx="130.4" cy="276.2" r="1.35" fill="#3CC0DA"/>
<path d="M330.60,315.10 C332.00,315.10 336.33,315.60 339.00,315.10 C341.67,314.60 343.92,313.43 346.60,312.10 C349.28,310.77 352.52,308.43 355.10,307.10 C357.68,305.77 359.70,303.93 362.10,304.10 C364.50,304.27 367.07,307.43 369.50,308.10 C371.93,308.77 374.17,307.60 376.70,308.10 C379.23,308.60 382.03,310.77 384.70,311.10 C387.37,311.43 390.70,310.37 392.70,310.10 C394.70,309.83 395.45,309.78 396.70,309.50 C397.95,309.22 398.95,308.50 400.20,308.40 C401.45,308.30 402.97,308.97 404.20,308.90 C405.43,308.83 406.47,308.28 407.60,308.00 C408.73,307.72 409.82,307.27 411.00,307.20 C412.18,307.13 413.45,307.40 414.70,307.60 C415.95,307.80 417.35,308.65 418.50,308.40 C419.65,308.15 420.45,306.02 421.60,306.10 C422.75,306.18 424.30,308.90 425.40,308.90 C426.50,308.90 427.12,306.25 428.20,306.10 C429.28,305.95 430.75,309.92 431.90,308.00 C433.05,306.08 434.00,297.40 435.10,294.60 C436.20,291.80 437.20,293.23 438.50,291.20 C439.80,289.17 441.57,282.53 442.90,282.40 C444.23,282.27 445.33,289.55 446.50,290.40 C447.67,291.25 448.68,286.17 449.90,287.50 C451.12,288.83 452.53,294.40 453.80,298.40 C455.07,302.40 456.28,308.97 457.50,311.50 C458.72,314.03 459.77,313.00 461.10,313.60 C462.43,314.20 463.93,314.65 465.50,315.10 C467.07,315.55 468.75,316.02 470.50,316.30 C472.25,316.58 475.08,316.72 476.00,316.80" fill="none" stroke="#8C7B75" stroke-width="1.0"/>
<circle cx="330.6" cy="315.1" r="1.35" fill="#6B5A55"/>
<circle cx="339" cy="315.1" r="1.35" fill="#6B5A55"/>
<circle cx="346.6" cy="312.1" r="1.35" fill="#6B5A55"/>
<circle cx="355.1" cy="307.1" r="1.35" fill="#6B5A55"/>
<circle cx="362.1" cy="304.1" r="1.35" fill="#6B5A55"/>
<circle cx="369.5" cy="308.1" r="1.35" fill="#6B5A55"/>
<circle cx="376.7" cy="308.1" r="1.35" fill="#6B5A55"/>
<circle cx="384.7" cy="311.1" r="1.35" fill="#6B5A55"/>
<circle cx="392.7" cy="310.1" r="1.35" fill="#6B5A55"/>
<circle cx="396.7" cy="309.5" r="1.35" fill="#6B5A55"/>
<circle cx="400.2" cy="308.4" r="1.35" fill="#6B5A55"/>
<circle cx="404.2" cy="308.9" r="1.35" fill="#6B5A55"/>
<circle cx="407.6" cy="308" r="1.35" fill="#6B5A55"/>
<circle cx="411" cy="307.2" r="1.35" fill="#6B5A55"/>
<circle cx="414.7" cy="307.6" r="1.35" fill="#6B5A55"/>
<circle cx="418.5" cy="308.4" r="1.35" fill="#6B5A55"/>
<circle cx="421.6" cy="306.1" r="1.35" fill="#6B5A55"/>
<circle cx="425.4" cy="308.9" r="1.35" fill="#6B5A55"/>
<circle cx="428.2" cy="306.1" r="1.35" fill="#6B5A55"/>
<circle cx="431.9" cy="308" r="1.35" fill="#6B5A55"/>
<circle cx="435.1" cy="294.6" r="1.35" fill="#6B5A55"/>
<circle cx="438.5" cy="291.2" r="1.35" fill="#6B5A55"/>
<circle cx="442.9" cy="282.4" r="1.35" fill="#6B5A55"/>
<circle cx="446.5" cy="290.4" r="1.35" fill="#6B5A55"/>
<circle cx="449.9" cy="287.5" r="1.35" fill="#6B5A55"/>
<circle cx="453.8" cy="298.4" r="1.35" fill="#6B5A55"/>
<circle cx="457.5" cy="311.5" r="1.35" fill="#6B5A55"/>
<circle cx="461.1" cy="313.6" r="1.35" fill="#6B5A55"/>
<circle cx="465.5" cy="315.1" r="1.35" fill="#6B5A55"/>
<circle cx="470.5" cy="316.3" r="1.35" fill="#6B5A55"/>
<circle cx="476" cy="316.8" r="1.35" fill="#6B5A55"/>
<path d="M330.60,316.10 C332.00,315.93 336.33,315.27 339.00,315.10 C341.67,314.93 343.92,315.20 346.60,315.10 C349.28,315.00 352.52,315.17 355.10,314.50 C357.68,313.83 359.70,311.67 362.10,311.10 C364.50,310.53 367.07,311.27 369.50,311.10 C371.93,310.93 374.17,310.27 376.70,310.10 C379.23,309.93 382.03,310.10 384.70,310.10 C387.37,310.10 390.60,310.02 392.70,310.10 C394.80,310.18 395.97,310.27 397.30,310.60 C398.63,310.93 399.47,312.38 400.70,312.10 C401.93,311.82 402.78,310.28 404.70,308.90 C406.62,307.52 410.00,304.18 412.20,303.80 C414.40,303.42 416.00,305.47 417.90,306.60 C419.80,307.73 421.68,310.88 423.60,310.60 C425.52,310.32 426.82,307.00 429.40,304.90 C431.98,302.80 436.62,298.85 439.10,298.00 C441.58,297.15 442.50,299.50 444.30,299.80 C446.10,300.10 448.65,303.93 449.90,299.80 C451.15,295.67 451.20,286.13 451.80,275.00 C452.40,263.87 452.47,237.68 453.50,233.00 C454.53,228.32 456.85,239.90 458.00,246.90 C459.15,253.90 459.40,263.88 460.40,275.00 C461.40,286.12 462.07,306.85 464.00,313.60 C465.93,320.35 468.67,315.93 472.00,315.50 C475.33,315.07 481.00,311.67 484.00,311.00 C487.00,310.33 487.67,310.53 490.00,311.50 C492.33,312.47 496.67,315.92 498.00,316.80" fill="none" stroke="#F5B0B0" stroke-width="1.0"/>
<circle cx="330.6" cy="316.1" r="1.35" fill="#F4A0A0"/>
<circle cx="339" cy="315.1" r="1.35" fill="#F4A0A0"/>
<circle cx="346.6" cy="315.1" r="1.35" fill="#F4A0A0"/>
<circle cx="355.1" cy="314.5" r="1.35" fill="#F4A0A0"/>
<circle cx="362.1" cy="311.1" r="1.35" fill="#F4A0A0"/>
<circle cx="369.5" cy="311.1" r="1.35" fill="#F4A0A0"/>
<circle cx="376.7" cy="310.1" r="1.35" fill="#F4A0A0"/>
<circle cx="384.7" cy="310.1" r="1.35" fill="#F4A0A0"/>
<circle cx="392.7" cy="310.1" r="1.35" fill="#F4A0A0"/>
<circle cx="397.3" cy="310.6" r="1.35" fill="#F4A0A0"/>
<circle cx="400.7" cy="312.1" r="1.35" fill="#F4A0A0"/>
<circle cx="404.7" cy="308.9" r="1.35" fill="#F4A0A0"/>
<circle cx="412.2" cy="303.8" r="1.35" fill="#F4A0A0"/>
<circle cx="417.9" cy="306.6" r="1.35" fill="#F4A0A0"/>
<circle cx="423.6" cy="310.6" r="1.35" fill="#F4A0A0"/>
<circle cx="429.4" cy="304.9" r="1.35" fill="#F4A0A0"/>
<circle cx="439.1" cy="298" r="1.35" fill="#F4A0A0"/>
<circle cx="444.3" cy="299.8" r="1.35" fill="#F4A0A0"/>
<circle cx="449.9" cy="299.8" r="1.35" fill="#F4A0A0"/>
<circle cx="453.5" cy="233" r="1.35" fill="#F4A0A0"/>
<circle cx="458" cy="246.9" r="1.35" fill="#F4A0A0"/>
<circle cx="464" cy="313.6" r="1.35" fill="#F4A0A0"/>
<circle cx="484" cy="311" r="1.35" fill="#F4A0A0"/>
<circle cx="498" cy="316.8" r="1.35" fill="#F4A0A0"/>
<path d="M330.60,314.10 C331.50,314.03 334.27,313.97 336.00,313.70 C337.73,313.43 339.50,313.17 341.00,312.50 C342.50,311.83 343.50,310.27 345.00,309.70 C346.50,309.13 348.32,309.53 350.00,309.10 C351.68,308.67 353.08,307.93 355.10,307.10 C357.12,306.27 359.93,304.87 362.10,304.10 C364.27,303.33 365.67,302.33 368.10,302.50 C370.53,302.67 373.93,305.10 376.70,305.10 C379.47,305.10 382.63,302.73 384.70,302.50 C386.77,302.27 387.53,304.27 389.10,303.70 C390.67,303.13 392.17,298.95 394.10,299.10 C396.03,299.25 398.73,304.53 400.70,304.60 C402.67,304.67 404.00,303.85 405.90,299.50 C407.80,295.15 410.10,280.55 412.10,278.50 C414.10,276.45 415.93,284.45 417.90,287.20 C419.87,289.95 421.90,297.57 423.90,295.00 C425.90,292.43 427.97,280.80 429.90,271.80 C431.83,262.80 433.95,247.55 435.50,241.00 C437.05,234.45 438.03,231.83 439.20,232.50 C440.37,233.17 441.08,233.60 442.50,245.00 C443.92,256.40 446.45,289.45 447.70,300.90 C448.95,312.35 448.98,311.38 450.00,313.70 C451.02,316.02 452.43,314.57 453.80,314.80 C455.17,315.03 456.25,315.00 458.20,315.10 C460.15,315.20 463.00,315.70 465.50,315.40 C468.00,315.10 469.45,314.37 473.20,313.30 C476.95,312.23 483.83,308.42 488.00,309.00 C492.17,309.58 496.50,315.50 498.20,316.80" fill="none" stroke="#30B060" stroke-width="1.0"/>
<circle cx="330.6" cy="314.1" r="1.35" fill="#0A9A3A"/>
<circle cx="336" cy="313.7" r="1.35" fill="#0A9A3A"/>
<circle cx="341" cy="312.5" r="1.35" fill="#0A9A3A"/>
<circle cx="345" cy="309.7" r="1.35" fill="#0A9A3A"/>
<circle cx="350" cy="309.1" r="1.35" fill="#0A9A3A"/>
<circle cx="355.1" cy="307.1" r="1.35" fill="#0A9A3A"/>
<circle cx="362.1" cy="304.1" r="1.35" fill="#0A9A3A"/>
<circle cx="368.1" cy="302.5" r="1.35" fill="#0A9A3A"/>
<circle cx="376.7" cy="305.1" r="1.35" fill="#0A9A3A"/>
<circle cx="384.7" cy="302.5" r="1.35" fill="#0A9A3A"/>
<circle cx="389.1" cy="303.7" r="1.35" fill="#0A9A3A"/>
<circle cx="394.1" cy="299.1" r="1.35" fill="#0A9A3A"/>
<circle cx="400.7" cy="304.6" r="1.35" fill="#0A9A3A"/>
<circle cx="405.9" cy="299.5" r="1.35" fill="#0A9A3A"/>
<circle cx="412.1" cy="278.5" r="1.35" fill="#0A9A3A"/>
<circle cx="417.9" cy="287.2" r="1.35" fill="#0A9A3A"/>
<circle cx="423.9" cy="295" r="1.35" fill="#0A9A3A"/>
<circle cx="429.9" cy="271.8" r="1.35" fill="#0A9A3A"/>
<circle cx="439.2" cy="232.5" r="1.35" fill="#0A9A3A"/>
<circle cx="450" cy="313.7" r="1.35" fill="#0A9A3A"/>
<circle cx="453.8" cy="314.8" r="1.35" fill="#0A9A3A"/>
<circle cx="458.2" cy="315.1" r="1.35" fill="#0A9A3A"/>
<circle cx="465.5" cy="315.4" r="1.35" fill="#0A9A3A"/>
<circle cx="473.2" cy="313.3" r="1.35" fill="#0A9A3A"/>
<circle cx="488" cy="309" r="1.35" fill="#0A9A3A"/>
<circle cx="498.2" cy="316.8" r="1.35" fill="#0A9A3A"/>
<path d="M330.60,312.10 C332.00,311.27 336.33,309.70 339.00,307.10 C341.67,304.50 343.92,297.17 346.60,296.50 C349.28,295.83 352.52,301.10 355.10,303.10 C357.68,305.10 359.70,307.67 362.10,308.50 C364.50,309.33 367.07,308.83 369.50,308.10 C371.93,307.37 374.17,305.60 376.70,304.10 C379.23,302.60 382.03,300.60 384.70,299.10 C387.37,297.60 390.23,297.30 392.70,295.10 C395.17,292.90 397.58,288.37 399.50,285.90 C401.42,283.43 402.80,282.05 404.20,280.30 C405.60,278.55 406.77,281.28 407.90,275.40 C409.03,269.52 409.82,255.05 411.00,245.00 C412.18,234.95 413.75,216.77 415.00,215.10 C416.25,213.43 417.20,226.48 418.50,235.00 C419.80,243.52 421.63,257.03 422.80,266.20 C423.97,275.37 424.22,282.60 425.50,290.00 C426.78,297.40 429.08,306.48 430.50,310.60 C431.92,314.72 432.70,313.87 434.00,314.70 C435.30,315.53 436.78,315.32 438.30,315.60 C439.82,315.88 441.15,316.20 443.10,316.40 C445.05,316.60 448.85,316.73 450.00,316.80" fill="none" stroke="#5252BA" stroke-width="1.0"/>
<circle cx="330.6" cy="312.1" r="1.35" fill="#1A1A8C"/>
<circle cx="339" cy="307.1" r="1.35" fill="#1A1A8C"/>
<circle cx="346.6" cy="296.5" r="1.35" fill="#1A1A8C"/>
<circle cx="355.1" cy="303.1" r="1.35" fill="#1A1A8C"/>
<circle cx="362.1" cy="308.5" r="1.35" fill="#1A1A8C"/>
<circle cx="369.5" cy="308.1" r="1.35" fill="#1A1A8C"/>
<circle cx="376.7" cy="304.1" r="1.35" fill="#1A1A8C"/>
<circle cx="384.7" cy="299.1" r="1.35" fill="#1A1A8C"/>
<circle cx="392.7" cy="295.1" r="1.35" fill="#1A1A8C"/>
<circle cx="399.5" cy="285.9" r="1.35" fill="#1A1A8C"/>
<circle cx="407.9" cy="275.4" r="1.35" fill="#1A1A8C"/>
<circle cx="415" cy="215.1" r="1.35" fill="#1A1A8C"/>
<circle cx="422.8" cy="266.2" r="1.35" fill="#1A1A8C"/>
<circle cx="430.5" cy="310.6" r="1.35" fill="#1A1A8C"/>
<circle cx="438.3" cy="315.6" r="1.35" fill="#1A1A8C"/>
<circle cx="450" cy="316.8" r="1.35" fill="#1A1A8C"/>
<path d="M330.60,304.10 C332.00,301.77 336.33,294.43 339.00,290.10 C341.67,285.77 344.60,278.60 346.60,278.10 C348.60,277.60 349.58,283.77 351.00,287.10 C352.42,290.43 353.25,295.53 355.10,298.10 C356.95,300.67 359.60,301.67 362.10,302.50 C364.60,303.33 367.67,303.50 370.10,303.10 C372.53,302.70 374.28,303.05 376.70,300.10 C379.12,297.15 382.62,292.92 384.60,285.40 C386.58,277.88 387.20,264.20 388.60,255.00 C390.00,245.80 391.08,231.12 393.00,230.20 C394.92,229.28 398.10,242.03 400.10,249.50 C402.10,256.97 403.72,266.85 405.00,275.00 C406.28,283.15 406.80,293.22 407.80,298.40 C408.80,303.58 409.73,303.82 411.00,306.10 C412.27,308.38 414.07,310.67 415.40,312.10 C416.73,313.53 417.82,314.08 419.00,314.70 C420.18,315.32 420.58,315.52 422.50,315.80 C424.42,316.08 424.25,316.23 430.50,316.40 C436.75,316.57 448.72,316.73 460.00,316.80 C471.28,316.87 490.02,316.80 498.20,316.80 C506.38,316.80 507.28,316.80 509.10,316.80" fill="none" stroke="#4a4a4a" stroke-width="1.0"/>
<circle cx="330.6" cy="304.1" r="1.35" fill="#111111"/>
<circle cx="339" cy="290.1" r="1.35" fill="#111111"/>
<circle cx="346.6" cy="278.1" r="1.35" fill="#111111"/>
<circle cx="355.1" cy="298.1" r="1.35" fill="#111111"/>
<circle cx="362.1" cy="302.5" r="1.35" fill="#111111"/>
<circle cx="370.1" cy="303.1" r="1.35" fill="#111111"/>
<circle cx="376.7" cy="300.1" r="1.35" fill="#111111"/>
<circle cx="384.6" cy="285.4" r="1.35" fill="#111111"/>
<circle cx="393" cy="230.2" r="1.35" fill="#111111"/>
<circle cx="400.1" cy="249.5" r="1.35" fill="#111111"/>
<circle cx="407.8" cy="298.4" r="1.35" fill="#111111"/>
<circle cx="415.4" cy="312.1" r="1.35" fill="#111111"/>
<circle cx="422.5" cy="315.8" r="1.35" fill="#111111"/>
<circle cx="430.5" cy="316.4" r="1.35" fill="#111111"/>
<circle cx="498.2" cy="316.8" r="1.35" fill="#111111"/>
<circle cx="509.1" cy="316.8" r="1.35" fill="#111111"/>
<path d="M330.60,307.10 C332.00,306.87 336.33,306.13 339.00,305.70 C341.67,305.27 343.92,306.10 346.60,304.50 C349.28,302.90 352.58,299.92 355.10,296.10 C357.62,292.28 359.30,281.43 361.70,281.60 C364.10,281.77 367.00,293.52 369.50,297.10 C372.00,300.68 374.17,302.10 376.70,303.10 C379.23,304.10 382.03,302.93 384.70,303.10 C387.37,303.27 390.22,304.57 392.70,304.10 C395.18,303.63 397.22,301.78 399.60,300.30 C401.98,298.82 404.43,296.72 407.00,295.20 C409.57,293.68 412.42,293.02 415.00,291.20 C417.58,289.38 420.67,288.67 422.50,284.30 C424.33,279.93 424.77,272.05 426.00,265.00 C427.23,257.95 428.65,242.00 429.90,242.00 C431.15,242.00 432.22,256.17 433.50,265.00 C434.78,273.83 436.38,288.25 437.60,295.00 C438.82,301.75 439.50,301.87 440.80,305.50 C442.10,309.13 443.70,314.92 445.40,316.80 C447.10,318.68 449.07,316.80 451.00,316.80 C452.93,316.80 455.00,316.80 457.00,316.80 C459.00,316.80 461.00,316.80 463.00,316.80 C465.00,316.80 467.00,316.80 469.00,316.80 C471.00,316.80 473.00,316.80 475.00,316.80 C477.00,316.80 478.47,316.80 481.00,316.80 C483.53,316.80 488.67,316.80 490.20,316.80" fill="none" stroke="#5CCCE0" stroke-width="1.0"/>
<circle cx="330.6" cy="307.1" r="1.35" fill="#3CC0DA"/>
<circle cx="339" cy="305.7" r="1.35" fill="#3CC0DA"/>
<circle cx="346.6" cy="304.5" r="1.35" fill="#3CC0DA"/>
<circle cx="355.1" cy="296.1" r="1.35" fill="#3CC0DA"/>
<circle cx="361.7" cy="281.6" r="1.35" fill="#3CC0DA"/>
<circle cx="369.5" cy="297.1" r="1.35" fill="#3CC0DA"/>
<circle cx="376.7" cy="303.1" r="1.35" fill="#3CC0DA"/>
<circle cx="384.7" cy="303.1" r="1.35" fill="#3CC0DA"/>
<circle cx="392.7" cy="304.1" r="1.35" fill="#3CC0DA"/>
<circle cx="399.6" cy="300.3" r="1.35" fill="#3CC0DA"/>
<circle cx="407" cy="295.2" r="1.35" fill="#3CC0DA"/>
<circle cx="415" cy="291.2" r="1.35" fill="#3CC0DA"/>
<circle cx="422.5" cy="284.3" r="1.35" fill="#3CC0DA"/>
<circle cx="429.9" cy="242" r="1.35" fill="#3CC0DA"/>
<circle cx="437.6" cy="295" r="1.35" fill="#3CC0DA"/>
<circle cx="445.4" cy="316.8" r="1.35" fill="#3CC0DA"/>
<circle cx="451" cy="316.8" r="1.35" fill="#3CC0DA"/>
<circle cx="457" cy="316.8" r="1.35" fill="#3CC0DA"/>
<circle cx="463" cy="316.8" r="1.35" fill="#3CC0DA"/>
<circle cx="469" cy="316.8" r="1.35" fill="#3CC0DA"/>
<circle cx="475" cy="316.8" r="1.35" fill="#3CC0DA"/>
<circle cx="481" cy="316.8" r="1.35" fill="#3CC0DA"/>
<circle cx="490.2" cy="316.8" r="1.35" fill="#3CC0DA"/></svg>
</body></html>
